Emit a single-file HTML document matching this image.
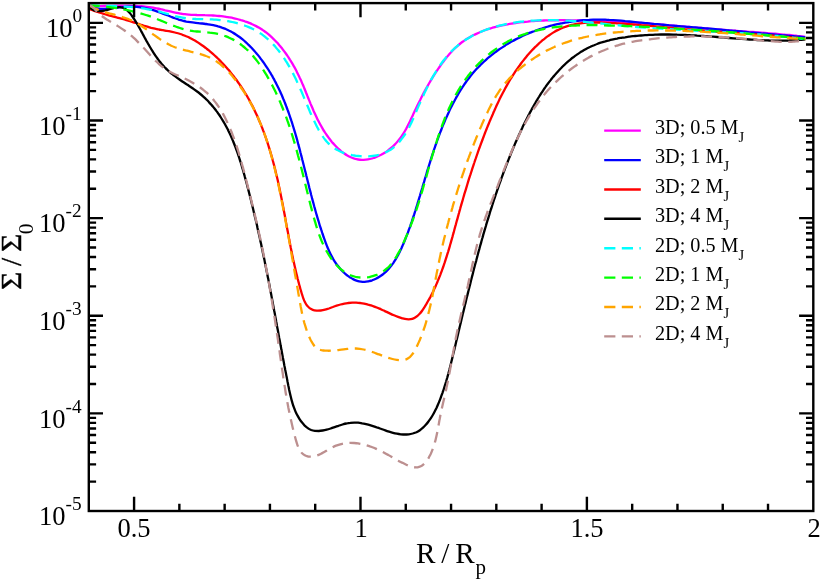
<!DOCTYPE html><html><head><meta charset="utf-8"><title>chart</title><style>
html,body{margin:0;padding:0;background:#fff;}
body{width:822px;height:581px;position:relative;overflow:hidden;font-family:"Liberation Serif",serif;color:#000;}
.t{position:absolute;white-space:nowrap;line-height:1;will-change:transform;}
.xl{font-size:26.5px;transform:translateX(-50%);}
.yl{font-size:26.5px;text-align:right;}
.yl sup{font-size:19.3px;position:relative;top:-15.1px;vertical-align:baseline;line-height:0;}
.lg{font-size:20.2px;}
.lg sub{font-size:14.6px;position:relative;top:7.6px;vertical-align:baseline;line-height:0;}
</style></head><body>
<svg width="822" height="581" viewBox="0 0 822 581" style="position:absolute;left:0;top:0">
<defs><clipPath id="c"><rect x="88.8" y="3.1" width="724.5" height="507.9"/></clipPath></defs>
<g fill="none" stroke-width="2.30" stroke-linejoin="round" clip-path="url(#c)">
<path d="M88.8,6.1C89.5,6.1 91.5,6.1 92.8,6.1C94.2,6.1 95.5,6.1 96.8,6.1C98.2,6.1 99.5,6.1 100.9,6.1C102.2,6.0 103.6,6.0 104.9,6.0C106.3,6.0 107.6,5.9 108.9,5.9C110.3,5.9 111.6,5.8 113.0,5.8C114.3,5.8 115.7,5.7 117.0,5.7C118.4,5.7 119.7,5.7 121.1,5.7C122.4,5.6 123.8,5.6 125.1,5.6C126.5,5.6 127.8,5.7 129.1,5.7C130.5,5.7 131.8,5.7 133.2,5.8C134.5,5.8 135.9,5.9 137.2,6.0C138.5,6.0 139.9,6.1 141.2,6.2C142.6,6.3 143.9,6.5 145.2,6.6C146.6,6.7 147.9,6.9 149.2,7.1C150.5,7.3 151.9,7.5 153.2,7.7C154.5,8.0 155.8,8.2 157.2,8.5C158.5,8.7 159.8,9.0 161.1,9.3C162.4,9.6 163.8,9.9 165.1,10.3C166.4,10.6 167.7,10.9 169.0,11.2C170.3,11.5 171.6,11.8 173.0,12.1C174.3,12.4 175.6,12.7 176.9,12.9C178.2,13.2 179.6,13.4 180.9,13.6C182.2,13.9 183.5,14.0 184.9,14.2C186.2,14.4 187.5,14.5 188.8,14.6C190.2,14.7 191.5,14.8 192.8,14.8C194.2,14.9 195.5,14.9 196.9,15.0C198.2,15.0 199.6,15.0 200.9,15.1C202.2,15.1 203.6,15.1 204.9,15.2C206.3,15.2 207.6,15.2 209.0,15.3C210.3,15.4 211.7,15.4 213.1,15.5C214.4,15.6 215.8,15.7 217.1,15.8C218.5,15.9 219.8,16.1 221.2,16.2C222.5,16.4 223.9,16.5 225.2,16.7C226.5,16.9 227.9,17.1 229.2,17.4C230.5,17.6 231.9,17.8 233.2,18.1C234.5,18.4 235.8,18.7 237.1,19.0C238.4,19.3 239.7,19.7 241.0,20.1C242.3,20.4 243.5,20.8 244.8,21.3C246.0,21.7 247.3,22.1 248.5,22.6C249.7,23.1 251.0,23.6 252.2,24.2C253.4,24.7 254.6,25.3 255.7,25.9C256.9,26.5 258.0,27.1 259.2,27.8C260.3,28.5 261.4,29.2 262.5,29.9C263.6,30.7 264.7,31.4 265.8,32.2C266.8,33.0 267.9,33.9 268.9,34.7C269.9,35.6 270.9,36.5 271.9,37.4C272.9,38.3 273.8,39.2 274.8,40.2C275.7,41.1 276.7,42.1 277.6,43.1C278.5,44.1 279.4,45.2 280.3,46.2C281.1,47.3 282.0,48.3 282.8,49.4C283.7,50.5 284.5,51.6 285.3,52.7C286.1,53.8 286.9,54.9 287.7,56.1C288.5,57.2 289.2,58.4 289.9,59.6C290.7,60.7 291.4,61.9 292.1,63.1C292.8,64.3 293.5,65.5 294.1,66.7C294.8,67.9 295.5,69.1 296.1,70.3C296.7,71.5 297.3,72.8 297.9,74.0C298.5,75.2 299.1,76.4 299.7,77.7C300.3,78.9 300.8,80.1 301.4,81.3C301.9,82.6 302.4,83.8 303.0,85.0C303.5,86.3 304.0,87.5 304.5,88.8C305.0,90.0 305.5,91.2 306.0,92.5C306.5,93.7 307.0,94.9 307.5,96.2C308.0,97.4 308.5,98.6 309.0,99.9C309.5,101.1 310.0,102.3 310.5,103.6C311.0,104.8 311.6,106.0 312.1,107.2C312.6,108.4 313.1,109.6 313.6,110.9C314.2,112.1 314.7,113.3 315.3,114.5C315.8,115.7 316.4,116.9 316.9,118.1C317.5,119.2 318.1,120.4 318.7,121.6C319.3,122.8 319.9,124.0 320.6,125.1C321.2,126.3 321.9,127.4 322.6,128.6C323.2,129.7 323.9,130.9 324.7,132.0C325.4,133.1 326.2,134.2 326.9,135.3C327.7,136.4 328.5,137.5 329.3,138.6C330.2,139.7 331.0,140.8 331.9,141.9C332.8,142.9 333.7,144.0 334.7,145.0C335.6,146.0 336.6,147.0 337.6,148.0C338.6,149.0 339.7,149.9 340.7,150.8C341.8,151.7 342.8,152.5 344.0,153.3C345.1,154.1 346.2,154.9 347.3,155.5C348.5,156.2 349.7,156.8 350.9,157.3C352.0,157.8 353.3,158.3 354.5,158.7C355.7,159.0 357.0,159.3 358.2,159.5C359.5,159.7 360.8,159.8 362.0,159.8C363.3,159.8 364.6,159.7 365.9,159.6C367.2,159.5 368.5,159.3 369.8,159.0C371.1,158.7 372.4,158.4 373.6,158.0C374.9,157.5 376.2,157.1 377.4,156.5C378.7,156.0 379.9,155.4 381.1,154.8C382.4,154.1 383.6,153.4 384.7,152.7C385.9,152.0 387.1,151.2 388.2,150.3C389.3,149.5 390.4,148.6 391.4,147.7C392.5,146.8 393.5,145.9 394.5,144.9C395.4,144.0 396.4,143.0 397.2,141.9C398.1,140.9 399.0,139.9 399.8,138.8C400.6,137.7 401.4,136.6 402.1,135.5C402.9,134.4 403.6,133.3 404.3,132.1C405.0,131.0 405.6,129.8 406.3,128.6C406.9,127.5 407.5,126.3 408.1,125.1C408.7,123.9 409.3,122.7 409.9,121.5C410.5,120.3 411.1,119.0 411.6,117.8C412.2,116.6 412.8,115.4 413.3,114.1C413.9,112.9 414.5,111.7 415.0,110.5C415.6,109.3 416.2,108.1 416.7,106.9C417.3,105.6 417.9,104.4 418.5,103.2C419.1,102.0 419.7,100.8 420.3,99.7C420.9,98.5 421.5,97.3 422.1,96.1C422.7,94.9 423.3,93.7 423.9,92.6C424.6,91.4 425.2,90.2 425.8,89.0C426.5,87.9 427.1,86.7 427.8,85.6C428.5,84.4 429.1,83.2 429.8,82.1C430.5,80.9 431.2,79.8 431.9,78.6C432.6,77.5 433.3,76.4 434.0,75.2C434.8,74.1 435.5,72.9 436.2,71.8C437.0,70.7 437.7,69.5 438.5,68.4C439.3,67.3 440.0,66.2 440.8,65.1C441.6,63.9 442.4,62.8 443.3,61.7C444.1,60.6 444.9,59.5 445.8,58.5C446.6,57.4 447.5,56.3 448.4,55.3C449.2,54.3 450.1,53.3 451.1,52.3C452.0,51.3 452.9,50.3 453.9,49.3C454.8,48.4 455.8,47.4 456.8,46.6C457.8,45.7 458.8,44.8 459.8,44.0C460.9,43.1 461.9,42.3 463.0,41.5C464.1,40.8 465.2,40.0 466.3,39.3C467.4,38.6 468.6,37.9 469.7,37.2C470.9,36.6 472.0,35.9 473.2,35.3C474.4,34.7 475.6,34.1 476.8,33.6C478.0,33.0 479.2,32.5 480.4,32.0C481.7,31.5 482.9,31.0 484.2,30.5C485.4,30.1 486.7,29.6 488.0,29.2C489.3,28.8 490.5,28.4 491.8,28.0C493.1,27.6 494.4,27.3 495.7,26.9C497.1,26.6 498.4,26.2 499.7,25.9C501.0,25.6 502.3,25.3 503.7,25.1C505.0,24.8 506.3,24.5 507.6,24.3C509.0,24.0 510.3,23.8 511.6,23.6C513.0,23.4 514.3,23.2 515.6,23.0C517.0,22.8 518.3,22.6 519.7,22.4C521.0,22.3 522.3,22.1 523.7,22.0C525.0,21.8 526.3,21.7 527.7,21.6C529.0,21.4 530.4,21.3 531.7,21.2C533.0,21.1 534.4,21.0 535.7,20.9C537.1,20.9 538.4,20.8 539.8,20.7C541.1,20.6 542.4,20.6 543.8,20.5C545.1,20.5 546.5,20.4 547.8,20.4C549.2,20.4 550.5,20.3 551.8,20.3C553.2,20.3 554.5,20.3 555.9,20.3C557.2,20.2 558.6,20.2 559.9,20.2C561.2,20.2 562.6,20.2 563.9,20.2C565.3,20.2 566.6,20.2 568.0,20.2C569.3,20.3 570.7,20.3 572.0,20.3C573.3,20.3 574.7,20.3 576.0,20.3C577.4,20.4 578.7,20.4 580.1,20.4C581.4,20.4 582.8,20.5 584.1,20.5C585.4,20.5 586.8,20.5 588.1,20.6C589.5,20.6 590.8,20.6 592.2,20.7C593.5,20.7 594.8,20.8 596.2,20.8C597.5,20.8 598.9,20.9 600.2,20.9C601.6,21.0 602.9,21.0 604.2,21.1C605.6,21.1 606.9,21.2 608.3,21.2C609.6,21.3 611.0,21.3 612.3,21.4C613.6,21.4 615.0,21.5 616.3,21.6C617.7,21.6 619.0,21.7 620.4,21.7C621.7,21.8 623.0,21.9 624.4,22.0C625.7,22.0 627.1,22.1 628.4,22.2C629.7,22.3 631.1,22.4 632.4,22.4C633.8,22.5 635.1,22.6 636.5,22.7C637.8,22.8 639.1,22.9 640.5,23.0C641.8,23.1 643.2,23.2 644.5,23.3C645.8,23.4 647.2,23.5 648.5,23.6C649.9,23.7 651.2,23.8 652.5,23.9C653.9,24.0 655.2,24.1 656.6,24.2C657.9,24.3 659.2,24.4 660.6,24.5C661.9,24.6 663.3,24.8 664.6,24.9C665.9,25.0 667.3,25.1 668.6,25.2C670.0,25.3 671.3,25.4 672.6,25.6C674.0,25.7 675.3,25.8 676.7,25.9C678.0,26.0 679.3,26.1 680.7,26.3C682.0,26.4 683.4,26.5 684.7,26.6C686.0,26.7 687.4,26.9 688.7,27.0C690.1,27.1 691.4,27.2 692.7,27.3C694.1,27.5 695.4,27.6 696.8,27.7C698.1,27.8 699.4,27.9 700.8,28.0C702.1,28.2 703.5,28.3 704.8,28.4C706.1,28.5 707.5,28.6 708.8,28.7C710.2,28.8 711.5,29.0 712.8,29.1C714.2,29.2 715.5,29.3 716.9,29.4C718.2,29.5 719.5,29.6 720.9,29.7C722.2,29.8 723.6,29.9 724.9,30.0C726.2,30.1 727.6,30.2 728.9,30.3C730.3,30.4 731.6,30.5 732.9,30.6C734.3,30.7 735.6,30.8 737.0,30.9C738.3,31.0 739.7,31.1 741.0,31.2C742.3,31.3 743.7,31.4 745.0,31.5C746.4,31.6 747.7,31.7 749.0,31.8C750.4,31.9 751.7,32.0 753.1,32.0C754.4,32.1 755.8,32.2 757.1,32.3C758.4,32.4 759.8,32.5 761.1,32.6C762.5,32.7 763.8,32.8 765.1,32.9C766.5,33.0 767.8,33.2 769.2,33.3C770.5,33.4 771.8,33.5 773.2,33.6C774.5,33.7 775.9,33.8 777.2,33.9C778.5,34.0 779.9,34.2 781.2,34.3C782.6,34.4 783.9,34.5 785.2,34.7C786.6,34.8 787.9,34.9 789.3,35.0C790.6,35.2 791.9,35.3 793.3,35.5C794.6,35.6 795.9,35.7 797.3,35.9C798.6,36.0 800.0,36.2 801.3,36.3C802.6,36.5 804.6,36.8 805.3,36.8" stroke="#ff00ff"/>
<path d="M88.8,6.1C89.5,6.4 91.4,7.2 92.7,7.6C94.0,8.0 95.3,8.2 96.6,8.4C97.9,8.6 99.2,8.7 100.5,8.8C101.9,8.8 103.2,8.8 104.5,8.8C105.8,8.7 107.1,8.6 108.5,8.5C109.8,8.4 111.1,8.2 112.5,8.0C113.8,7.9 115.1,7.7 116.5,7.6C117.8,7.4 119.1,7.3 120.5,7.1C121.8,7.0 123.2,6.9 124.5,6.9C125.8,6.8 127.2,6.7 128.5,6.7C129.9,6.7 131.2,6.7 132.5,6.7C133.9,6.7 135.2,6.8 136.5,6.9C137.9,7.0 139.2,7.1 140.5,7.3C141.8,7.5 143.2,7.7 144.5,7.9C145.8,8.2 147.1,8.5 148.4,8.8C149.7,9.1 150.9,9.5 152.2,9.9C153.5,10.2 154.8,10.7 156.1,11.1C157.3,11.5 158.6,12.0 159.9,12.4C161.1,12.9 162.4,13.4 163.6,13.9C164.9,14.3 166.1,14.8 167.4,15.3C168.6,15.8 169.9,16.3 171.1,16.8C172.4,17.3 173.6,17.8 174.9,18.2C176.1,18.7 177.4,19.1 178.7,19.6C179.9,20.0 181.2,20.3 182.5,20.7C183.7,21.0 185.0,21.3 186.3,21.6C187.6,21.8 188.9,22.0 190.3,22.2C191.6,22.4 192.9,22.6 194.2,22.7C195.5,22.9 196.9,23.0 198.2,23.1C199.5,23.3 200.9,23.4 202.2,23.5C203.5,23.7 204.9,23.8 206.2,24.0C207.5,24.2 208.9,24.4 210.2,24.6C211.5,24.8 212.8,25.1 214.2,25.4C215.5,25.7 216.8,26.0 218.1,26.4C219.4,26.7 220.6,27.1 221.9,27.6C223.2,28.0 224.4,28.5 225.7,29.0C226.9,29.5 228.1,30.1 229.3,30.7C230.5,31.2 231.7,31.9 232.8,32.6C234.0,33.2 235.1,33.9 236.2,34.7C237.3,35.4 238.4,36.2 239.5,37.0C240.6,37.8 241.6,38.6 242.6,39.4C243.7,40.3 244.7,41.2 245.7,42.1C246.7,43.0 247.7,43.9 248.6,44.9C249.6,45.8 250.6,46.8 251.5,47.7C252.4,48.7 253.3,49.7 254.2,50.7C255.1,51.7 256.0,52.8 256.8,53.8C257.7,54.8 258.6,55.9 259.4,56.9C260.2,58.0 261.0,59.1 261.8,60.1C262.6,61.2 263.4,62.3 264.2,63.4C264.9,64.5 265.7,65.6 266.4,66.7C267.2,67.8 267.9,68.9 268.6,70.0C269.3,71.2 270.0,72.3 270.7,73.4C271.3,74.6 272.0,75.7 272.7,76.9C273.3,78.1 274.0,79.2 274.6,80.4C275.2,81.6 275.8,82.7 276.4,83.9C277.0,85.1 277.6,86.3 278.2,87.5C278.8,88.7 279.4,89.9 279.9,91.1C280.5,92.3 281.0,93.6 281.6,94.8C282.1,96.0 282.6,97.2 283.1,98.5C283.7,99.7 284.2,100.9 284.7,102.2C285.2,103.4 285.7,104.7 286.1,105.9C286.6,107.2 287.1,108.4 287.5,109.7C288.0,111.0 288.5,112.2 288.9,113.5C289.3,114.8 289.8,116.0 290.2,117.3C290.6,118.6 291.1,119.9 291.5,121.2C291.9,122.4 292.3,123.7 292.7,125.0C293.1,126.3 293.5,127.6 293.9,128.9C294.3,130.2 294.7,131.5 295.1,132.8C295.4,134.0 295.8,135.3 296.2,136.6C296.6,137.9 296.9,139.2 297.3,140.5C297.6,141.8 298.0,143.1 298.3,144.4C298.7,145.7 299.0,147.0 299.4,148.3C299.7,149.6 300.1,151.0 300.4,152.3C300.8,153.6 301.1,154.9 301.4,156.2C301.8,157.5 302.1,158.8 302.4,160.1C302.8,161.4 303.1,162.7 303.4,164.0C303.7,165.3 304.1,166.6 304.4,167.9C304.7,169.2 305.0,170.5 305.4,171.8C305.7,173.0 306.0,174.3 306.3,175.6C306.7,176.9 307.0,178.2 307.3,179.5C307.6,180.8 307.9,182.1 308.3,183.4C308.6,184.7 308.9,186.0 309.2,187.3C309.6,188.6 309.9,189.9 310.2,191.2C310.6,192.5 310.9,193.8 311.2,195.0C311.6,196.3 311.9,197.6 312.2,198.9C312.6,200.2 312.9,201.5 313.3,202.8C313.6,204.1 314.0,205.3 314.3,206.6C314.7,207.9 315.0,209.2 315.4,210.5C315.8,211.8 316.1,213.1 316.5,214.3C316.9,215.6 317.2,216.9 317.6,218.2C318.0,219.5 318.4,220.7 318.8,222.0C319.2,223.3 319.5,224.6 319.9,225.8C320.3,227.1 320.8,228.4 321.2,229.7C321.6,230.9 322.0,232.2 322.4,233.5C322.9,234.7 323.3,236.0 323.7,237.3C324.2,238.5 324.6,239.8 325.1,241.1C325.5,242.3 326.0,243.6 326.5,244.8C327.0,246.1 327.5,247.3 328.0,248.6C328.6,249.8 329.1,251.0 329.7,252.3C330.2,253.5 330.8,254.7 331.5,255.9C332.1,257.0 332.7,258.2 333.4,259.4C334.1,260.5 334.8,261.7 335.6,262.8C336.3,263.9 337.1,265.0 338.0,266.1C338.8,267.1 339.7,268.2 340.6,269.2C341.5,270.2 342.5,271.3 343.5,272.2C344.5,273.2 345.6,274.1 346.6,275.0C347.7,275.8 348.8,276.7 350.0,277.4C351.1,278.1 352.3,278.8 353.5,279.4C354.7,280.0 355.9,280.4 357.2,280.8C358.4,281.2 359.6,281.5 360.9,281.6C362.2,281.8 363.4,281.8 364.7,281.8C366.0,281.7 367.2,281.5 368.5,281.3C369.7,281.0 371.0,280.7 372.2,280.3C373.5,279.8 374.7,279.3 375.9,278.7C377.1,278.2 378.3,277.5 379.4,276.8C380.5,276.1 381.7,275.3 382.7,274.5C383.8,273.7 384.8,272.8 385.8,271.9C386.8,270.9 387.7,270.0 388.6,269.0C389.5,268.0 390.4,266.9 391.2,265.9C392.0,264.8 392.8,263.7 393.6,262.6C394.3,261.5 395.1,260.3 395.8,259.1C396.5,258.0 397.2,256.8 397.8,255.6C398.5,254.4 399.1,253.1 399.7,251.9C400.3,250.7 400.9,249.4 401.5,248.2C402.0,246.9 402.6,245.7 403.1,244.4C403.7,243.2 404.2,241.9 404.7,240.7C405.2,239.4 405.7,238.2 406.2,236.9C406.7,235.7 407.2,234.5 407.7,233.2C408.1,231.9 408.6,230.7 409.0,229.4C409.5,228.2 409.9,226.9 410.4,225.7C410.8,224.4 411.2,223.2 411.7,221.9C412.1,220.7 412.5,219.4 412.9,218.1C413.3,216.9 413.8,215.6 414.2,214.4C414.6,213.1 415.0,211.8 415.4,210.6C415.8,209.3 416.2,208.0 416.6,206.7C417.0,205.5 417.4,204.2 417.7,202.9C418.1,201.6 418.5,200.4 418.9,199.1C419.3,197.8 419.7,196.5 420.1,195.3C420.4,194.0 420.8,192.7 421.2,191.4C421.6,190.1 422.0,188.9 422.4,187.6C422.7,186.3 423.1,185.0 423.5,183.7C423.9,182.5 424.3,181.2 424.6,179.9C425.0,178.6 425.4,177.3 425.8,176.0C426.2,174.8 426.6,173.5 426.9,172.2C427.3,170.9 427.7,169.6 428.1,168.4C428.5,167.1 428.9,165.8 429.3,164.5C429.7,163.2 430.1,162.0 430.5,160.7C430.9,159.4 431.3,158.1 431.7,156.8C432.1,155.6 432.5,154.3 433.0,153.0C433.4,151.7 433.8,150.5 434.2,149.2C434.7,147.9 435.1,146.7 435.5,145.4C436.0,144.1 436.4,142.9 436.9,141.6C437.3,140.3 437.8,139.1 438.2,137.8C438.7,136.6 439.1,135.3 439.6,134.0C440.1,132.8 440.6,131.5 441.1,130.3C441.5,129.0 442.0,127.8 442.5,126.5C443.0,125.3 443.5,124.0 444.1,122.8C444.6,121.6 445.1,120.3 445.6,119.1C446.2,117.9 446.7,116.6 447.3,115.4C447.8,114.2 448.4,113.0 449.0,111.7C449.5,110.5 450.1,109.3 450.7,108.1C451.3,106.9 451.9,105.7 452.5,104.5C453.1,103.3 453.8,102.1 454.4,100.9C455.0,99.7 455.7,98.5 456.3,97.4C457.0,96.2 457.7,95.0 458.3,93.9C459.0,92.7 459.7,91.6 460.4,90.4C461.1,89.3 461.9,88.2 462.6,87.0C463.3,85.9 464.1,84.8 464.8,83.7C465.6,82.6 466.4,81.5 467.2,80.4C468.0,79.4 468.8,78.3 469.6,77.3C470.4,76.2 471.2,75.2 472.1,74.1C472.9,73.1 473.8,72.1 474.7,71.1C475.6,70.1 476.5,69.1 477.4,68.1C478.3,67.2 479.2,66.2 480.2,65.3C481.1,64.3 482.1,63.4 483.0,62.5C484.0,61.6 485.0,60.7 486.0,59.8C487.0,58.9 488.0,58.0 489.0,57.2C490.1,56.3 491.1,55.4 492.2,54.6C493.2,53.8 494.3,53.0 495.3,52.2C496.4,51.4 497.5,50.6 498.6,49.8C499.7,49.0 500.8,48.3 501.9,47.6C503.0,46.8 504.1,46.1 505.3,45.4C506.4,44.7 507.6,44.0 508.7,43.3C509.9,42.6 511.0,41.9 512.2,41.3C513.4,40.6 514.5,40.0 515.7,39.4C516.9,38.8 518.1,38.2 519.3,37.6C520.5,37.0 521.7,36.4 522.9,35.8C524.1,35.3 525.4,34.7 526.6,34.2C527.8,33.7 529.1,33.1 530.3,32.6C531.6,32.1 532.8,31.7 534.1,31.2C535.3,30.7 536.6,30.2 537.8,29.8C539.1,29.4 540.4,28.9 541.7,28.5C542.9,28.1 544.2,27.7 545.5,27.3C546.8,26.9 548.1,26.6 549.4,26.2C550.7,25.9 552.0,25.5 553.3,25.2C554.6,24.9 555.9,24.5 557.2,24.2C558.5,24.0 559.8,23.7 561.1,23.4C562.5,23.1 563.8,22.9 565.1,22.6C566.4,22.4 567.8,22.2 569.1,22.0C570.4,21.7 571.7,21.6 573.1,21.4C574.4,21.2 575.7,21.0 577.1,20.9C578.4,20.7 579.7,20.6 581.1,20.4C582.4,20.3 583.8,20.2 585.1,20.1C586.4,20.0 587.8,19.9 589.1,19.9C590.5,19.8 591.8,19.7 593.1,19.7C594.5,19.7 595.8,19.6 597.2,19.6C598.5,19.6 599.8,19.6 601.2,19.6C602.5,19.6 603.8,19.7 605.2,19.7C606.5,19.8 607.8,19.8 609.2,19.9C610.5,19.9 611.8,20.0 613.2,20.1C614.5,20.2 615.8,20.3 617.2,20.4C618.5,20.5 619.8,20.6 621.1,20.7C622.5,20.8 623.8,20.9 625.1,21.1C626.5,21.2 627.8,21.3 629.1,21.5C630.4,21.6 631.8,21.7 633.1,21.9C634.4,22.0 635.8,22.1 637.1,22.3C638.4,22.4 639.8,22.5 641.1,22.7C642.4,22.8 643.8,22.9 645.1,23.1C646.4,23.2 647.8,23.3 649.1,23.4C650.4,23.6 651.8,23.7 653.1,23.8C654.4,24.0 655.8,24.1 657.1,24.2C658.4,24.3 659.8,24.4 661.1,24.6C662.4,24.7 663.8,24.8 665.1,24.9C666.4,25.0 667.8,25.1 669.1,25.3C670.5,25.4 671.8,25.5 673.1,25.6C674.5,25.7 675.8,25.8 677.1,26.0C678.5,26.1 679.8,26.2 681.2,26.3C682.5,26.4 683.8,26.5 685.2,26.6C686.5,26.7 687.8,26.9 689.2,27.0C690.5,27.1 691.9,27.2 693.2,27.3C694.5,27.4 695.9,27.5 697.2,27.6C698.5,27.8 699.9,27.9 701.2,28.0C702.6,28.1 703.9,28.2 705.2,28.3C706.6,28.4 707.9,28.6 709.2,28.7C710.6,28.8 711.9,28.9 713.2,29.0C714.6,29.1 715.9,29.3 717.2,29.4C718.6,29.5 719.9,29.6 721.2,29.7C722.6,29.9 723.9,30.0 725.2,30.1C726.6,30.2 727.9,30.3 729.3,30.5C730.6,30.6 731.9,30.7 733.3,30.8C734.6,30.9 735.9,31.1 737.3,31.2C738.6,31.3 739.9,31.4 741.3,31.5C742.6,31.7 743.9,31.8 745.3,31.9C746.6,32.0 747.9,32.1 749.3,32.3C750.6,32.4 751.9,32.5 753.3,32.6C754.6,32.7 755.9,32.9 757.3,33.0C758.6,33.1 759.9,33.2 761.3,33.4C762.6,33.5 763.9,33.6 765.3,33.7C766.6,33.8 767.9,34.0 769.3,34.1C770.6,34.2 771.9,34.3 773.3,34.4C774.6,34.6 775.9,34.7 777.3,34.8C778.6,34.9 779.9,35.0 781.3,35.2C782.6,35.3 783.9,35.4 785.3,35.5C786.6,35.6 787.9,35.8 789.3,35.9C790.6,36.0 792.0,36.1 793.3,36.2C794.6,36.4 796.0,36.5 797.3,36.6C798.6,36.7 800.0,36.8 801.3,36.9C802.6,37.1 804.7,37.2 805.3,37.3" stroke="#0000ff"/>
<path d="M89.7,9.2C90.3,9.5 92.2,10.1 93.5,10.6C94.7,11.0 96.0,11.4 97.3,11.8C98.5,12.3 99.8,12.6 101.1,13.0C102.4,13.4 103.6,13.8 104.9,14.2C106.2,14.5 107.5,14.9 108.8,15.3C110.1,15.6 111.4,16.0 112.7,16.3C114.0,16.7 115.3,17.0 116.6,17.4C117.8,17.7 119.1,18.1 120.4,18.4C121.7,18.8 123.0,19.1 124.3,19.5C125.6,19.9 126.9,20.2 128.2,20.6C129.5,21.0 130.7,21.4 132.0,21.8C133.3,22.2 134.6,22.6 135.8,23.0C137.1,23.4 138.4,23.8 139.6,24.2C140.9,24.7 142.2,25.1 143.4,25.5C144.7,25.9 146.0,26.3 147.3,26.7C148.5,27.1 149.8,27.4 151.1,27.8C152.4,28.1 153.7,28.4 155.0,28.7C156.4,29.0 157.7,29.2 159.0,29.5C160.3,29.7 161.7,30.0 163.0,30.2C164.3,30.4 165.7,30.7 167.0,30.9C168.3,31.1 169.6,31.4 171.0,31.6C172.3,31.9 173.6,32.2 174.9,32.5C176.2,32.8 177.5,33.2 178.8,33.5C180.0,33.9 181.3,34.3 182.5,34.8C183.8,35.2 185.0,35.7 186.2,36.3C187.5,36.8 188.7,37.3 189.9,37.9C191.0,38.5 192.2,39.1 193.4,39.8C194.6,40.4 195.7,41.1 196.8,41.8C198.0,42.5 199.1,43.2 200.2,44.0C201.3,44.7 202.4,45.5 203.5,46.3C204.6,47.1 205.7,47.9 206.7,48.7C207.8,49.5 208.8,50.4 209.9,51.3C210.9,52.1 211.9,53.0 212.9,53.9C213.9,54.8 214.9,55.7 215.9,56.6C216.9,57.5 217.8,58.5 218.8,59.4C219.8,60.4 220.7,61.3 221.6,62.3C222.6,63.3 223.5,64.2 224.4,65.2C225.3,66.2 226.2,67.2 227.1,68.2C227.9,69.2 228.8,70.2 229.7,71.3C230.5,72.3 231.4,73.3 232.2,74.4C233.0,75.4 233.9,76.5 234.7,77.6C235.5,78.6 236.3,79.7 237.1,80.8C237.8,81.9 238.6,83.0 239.4,84.1C240.1,85.2 240.9,86.3 241.6,87.4C242.3,88.5 243.1,89.6 243.8,90.8C244.5,91.9 245.2,93.1 245.9,94.2C246.6,95.3 247.2,96.5 247.9,97.7C248.6,98.8 249.2,100.0 249.9,101.2C250.5,102.3 251.1,103.5 251.7,104.7C252.4,105.9 253.0,107.1 253.6,108.3C254.1,109.5 254.7,110.7 255.3,111.9C255.9,113.1 256.4,114.3 257.0,115.5C257.5,116.7 258.1,117.9 258.6,119.2C259.1,120.4 259.7,121.6 260.2,122.9C260.7,124.1 261.2,125.3 261.7,126.6C262.2,127.8 262.7,129.1 263.1,130.3C263.6,131.6 264.1,132.8 264.5,134.1C265.0,135.3 265.4,136.6 265.9,137.9C266.3,139.1 266.7,140.4 267.2,141.7C267.6,143.0 268.0,144.2 268.4,145.5C268.8,146.8 269.2,148.1 269.6,149.4C270.0,150.7 270.4,151.9 270.7,153.2C271.1,154.5 271.5,155.8 271.9,157.1C272.2,158.4 272.6,159.7 272.9,161.0C273.3,162.3 273.6,163.6 274.0,164.9C274.3,166.2 274.6,167.5 275.0,168.8C275.3,170.1 275.6,171.4 275.9,172.8C276.2,174.1 276.5,175.4 276.9,176.7C277.2,178.0 277.5,179.3 277.8,180.6C278.1,181.9 278.3,183.2 278.6,184.6C278.9,185.9 279.2,187.2 279.5,188.5C279.8,189.8 280.0,191.1 280.3,192.4C280.6,193.7 280.8,195.1 281.1,196.4C281.4,197.7 281.6,199.0 281.9,200.3C282.1,201.6 282.4,202.9 282.7,204.2C282.9,205.6 283.2,206.9 283.4,208.2C283.6,209.5 283.9,210.8 284.1,212.1C284.4,213.4 284.6,214.7 284.9,216.0C285.1,217.3 285.3,218.6 285.6,219.9C285.8,221.3 286.1,222.6 286.3,223.9C286.5,225.2 286.8,226.5 287.0,227.8C287.3,229.1 287.5,230.4 287.8,231.7C288.0,233.0 288.2,234.3 288.5,235.6C288.7,236.9 289.0,238.2 289.2,239.6C289.5,240.9 289.7,242.2 290.0,243.5C290.2,244.8 290.5,246.1 290.7,247.4C291.0,248.7 291.3,250.0 291.5,251.3C291.8,252.6 292.0,254.0 292.3,255.3C292.6,256.6 292.9,257.9 293.1,259.2C293.4,260.5 293.7,261.8 294.0,263.1C294.3,264.5 294.6,265.8 294.9,267.1C295.2,268.4 295.5,269.7 295.8,271.0C296.1,272.4 296.4,273.7 296.8,275.0C297.1,276.3 297.4,277.6 297.7,279.0C298.1,280.3 298.4,281.6 298.8,282.9C299.1,284.3 299.5,285.6 299.9,286.9C300.2,288.3 300.6,289.6 301.0,290.9C301.4,292.3 301.7,293.6 302.2,294.9C302.6,296.2 303.0,297.6 303.5,298.8C304.0,300.1 304.5,301.3 305.1,302.4C305.6,303.6 306.3,304.6 307.0,305.6C307.8,306.5 308.6,307.4 309.6,308.1C310.5,308.8 311.6,309.4 312.8,309.8C314.0,310.2 315.3,310.4 316.7,310.6C318.0,310.7 319.5,310.6 320.9,310.5C322.2,310.4 323.6,310.1 325.0,309.7C326.3,309.4 327.6,308.9 328.9,308.5C330.2,308.0 331.5,307.5 332.8,307.0C334.0,306.5 335.3,306.0 336.6,305.6C337.9,305.2 339.2,304.8 340.5,304.5C341.8,304.2 343.1,303.9 344.4,303.6C345.7,303.4 347.0,303.2 348.3,303.0C349.6,302.9 350.9,302.8 352.3,302.7C353.6,302.7 354.9,302.7 356.2,302.7C357.5,302.8 358.9,302.9 360.2,303.0C361.5,303.2 362.8,303.4 364.1,303.6C365.5,303.9 366.8,304.2 368.1,304.6C369.4,304.9 370.7,305.3 372.0,305.7C373.3,306.2 374.6,306.6 375.8,307.1C377.1,307.6 378.3,308.1 379.5,308.6C380.7,309.2 381.9,309.7 383.1,310.3C384.3,310.8 385.4,311.4 386.6,311.9C387.8,312.5 389.0,313.1 390.2,313.6C391.4,314.2 392.7,314.8 394.0,315.3C395.3,315.9 396.6,316.4 398.0,316.9C399.4,317.4 400.9,317.9 402.3,318.3C403.8,318.7 405.2,319.1 406.6,319.2C408.0,319.4 409.3,319.4 410.6,319.2C411.8,319.0 413.0,318.6 414.1,318.1C415.2,317.7 416.2,317.0 417.1,316.2C418.1,315.5 419.0,314.6 419.9,313.6C420.7,312.7 421.5,311.6 422.3,310.5C423.1,309.5 423.8,308.3 424.5,307.2C425.2,306.0 425.9,304.8 426.6,303.7C427.3,302.5 428.0,301.3 428.6,300.1C429.3,298.9 429.9,297.8 430.6,296.6C431.2,295.4 431.8,294.2 432.4,293.0C433.0,291.8 433.6,290.6 434.1,289.3C434.7,288.1 435.3,286.9 435.8,285.7C436.3,284.5 436.9,283.2 437.4,282.0C437.9,280.8 438.4,279.5 438.9,278.3C439.4,277.0 439.9,275.8 440.4,274.6C440.9,273.3 441.3,272.1 441.8,270.8C442.3,269.5 442.7,268.3 443.2,267.0C443.6,265.8 444.0,264.5 444.5,263.2C444.9,262.0 445.3,260.7 445.7,259.4C446.1,258.2 446.5,256.9 446.9,255.6C447.3,254.3 447.7,253.0 448.1,251.8C448.5,250.5 448.9,249.2 449.3,247.9C449.7,246.6 450.0,245.3 450.4,244.0C450.8,242.8 451.1,241.5 451.5,240.2C451.9,238.9 452.2,237.6 452.6,236.3C452.9,235.0 453.3,233.7 453.7,232.4C454.0,231.1 454.4,229.8 454.7,228.5C455.1,227.2 455.4,225.9 455.8,224.6C456.1,223.4 456.5,222.1 456.8,220.8C457.2,219.5 457.6,218.2 457.9,216.9C458.3,215.6 458.6,214.3 459.0,213.0C459.3,211.7 459.7,210.4 460.1,209.1C460.4,207.8 460.8,206.5 461.2,205.2C461.5,203.9 461.9,202.7 462.3,201.4C462.7,200.1 463.0,198.8 463.4,197.5C463.8,196.2 464.2,194.9 464.5,193.6C464.9,192.4 465.3,191.1 465.7,189.8C466.1,188.5 466.5,187.2 466.9,185.9C467.3,184.7 467.6,183.4 468.0,182.1C468.4,180.8 468.8,179.5 469.2,178.2C469.6,177.0 470.0,175.7 470.5,174.4C470.9,173.1 471.3,171.9 471.7,170.6C472.1,169.3 472.5,168.0 472.9,166.8C473.4,165.5 473.8,164.2 474.2,163.0C474.6,161.7 475.1,160.4 475.5,159.2C475.9,157.9 476.4,156.6 476.8,155.4C477.2,154.1 477.7,152.8 478.1,151.6C478.6,150.3 479.0,149.0 479.5,147.8C479.9,146.5 480.4,145.3 480.9,144.0C481.3,142.8 481.8,141.5 482.3,140.3C482.7,139.0 483.2,137.7 483.7,136.5C484.2,135.3 484.6,134.0 485.1,132.8C485.6,131.5 486.1,130.3 486.6,129.0C487.1,127.8 487.6,126.5 488.1,125.3C488.6,124.1 489.1,122.8 489.6,121.6C490.1,120.4 490.7,119.1 491.2,117.9C491.7,116.7 492.2,115.4 492.8,114.2C493.3,113.0 493.8,111.8 494.4,110.5C494.9,109.3 495.5,108.1 496.0,106.9C496.6,105.7 497.1,104.4 497.7,103.2C498.3,102.0 498.9,100.8 499.4,99.6C500.0,98.4 500.6,97.2 501.2,96.0C501.8,94.8 502.4,93.6 503.0,92.5C503.7,91.3 504.3,90.1 504.9,88.9C505.6,87.7 506.2,86.6 506.9,85.4C507.5,84.2 508.2,83.1 508.8,81.9C509.5,80.8 510.2,79.6 510.9,78.5C511.6,77.4 512.3,76.2 513.0,75.1C513.7,74.0 514.5,72.9 515.2,71.7C515.9,70.6 516.7,69.5 517.5,68.4C518.2,67.3 519.0,66.2 519.8,65.2C520.6,64.1 521.4,63.0 522.2,61.9C523.0,60.9 523.9,59.8 524.7,58.8C525.6,57.7 526.4,56.7 527.3,55.6C528.2,54.6 529.1,53.6 530.0,52.6C530.9,51.6 531.8,50.6 532.7,49.6C533.7,48.6 534.6,47.6 535.6,46.7C536.6,45.7 537.5,44.8 538.5,43.9C539.5,42.9 540.5,42.0 541.6,41.1C542.6,40.3 543.6,39.4 544.7,38.6C545.8,37.7 546.8,36.9 547.9,36.1C549.0,35.4 550.1,34.6 551.2,33.9C552.3,33.2 553.4,32.5 554.6,31.8C555.7,31.1 556.9,30.5 558.1,29.9C559.2,29.3 560.4,28.8 561.6,28.3C562.8,27.7 564.0,27.3 565.3,26.8C566.5,26.4 567.7,26.0 569.0,25.6C570.2,25.3 571.5,24.9 572.8,24.7C574.1,24.4 575.3,24.1 576.6,23.9C577.9,23.7 579.2,23.5 580.6,23.3C581.9,23.1 583.2,23.0 584.5,22.9C585.9,22.8 587.2,22.7 588.5,22.6C589.9,22.5 591.2,22.5 592.6,22.5C593.9,22.4 595.3,22.4 596.7,22.4C598.0,22.5 599.4,22.5 600.8,22.5C602.1,22.5 603.5,22.6 604.8,22.6C606.2,22.7 607.6,22.8 608.9,22.8C610.3,22.9 611.7,23.0 613.0,23.1C614.4,23.2 615.8,23.2 617.1,23.3C618.5,23.4 619.8,23.5 621.2,23.6C622.5,23.7 623.9,23.8 625.2,23.9C626.6,24.0 627.9,24.1 629.3,24.2C630.6,24.3 631.9,24.4 633.3,24.5C634.6,24.6 636.0,24.7 637.3,24.8C638.6,24.9 640.0,25.0 641.3,25.2C642.6,25.3 644.0,25.4 645.3,25.5C646.6,25.6 648.0,25.7 649.3,25.9C650.6,26.0 651.9,26.1 653.3,26.2C654.6,26.3 655.9,26.5 657.2,26.6C658.6,26.7 659.9,26.8 661.2,27.0C662.5,27.1 663.9,27.2 665.2,27.3C666.5,27.4 667.8,27.6 669.2,27.7C670.5,27.8 671.8,27.9 673.1,28.1C674.4,28.2 675.8,28.3 677.1,28.4C678.4,28.6 679.7,28.7 681.1,28.8C682.4,28.9 683.7,29.0 685.0,29.2C686.4,29.3 687.7,29.4 689.0,29.5C690.3,29.6 691.7,29.7 693.0,29.9C694.3,30.0 695.6,30.1 697.0,30.2C698.3,30.3 699.6,30.4 701.0,30.5C702.3,30.6 703.6,30.7 705.0,30.8C706.3,31.0 707.6,31.1 709.0,31.2C710.3,31.3 711.6,31.4 713.0,31.5C714.3,31.5 715.7,31.6 717.0,31.7C718.3,31.8 719.7,31.9 721.0,32.0C722.4,32.1 723.7,32.2 725.0,32.3C726.4,32.4 727.7,32.5 729.1,32.6C730.4,32.7 731.8,32.7 733.1,32.8C734.5,32.9 735.8,33.0 737.1,33.1C738.5,33.2 739.8,33.3 741.2,33.4C742.5,33.5 743.9,33.5 745.2,33.6C746.6,33.7 747.9,33.8 749.2,33.9C750.6,34.0 751.9,34.1 753.3,34.2C754.6,34.3 756.0,34.4 757.3,34.5C758.7,34.6 760.0,34.6 761.3,34.7C762.7,34.8 764.0,34.9 765.4,35.0C766.7,35.1 768.0,35.2 769.4,35.3C770.7,35.4 772.1,35.6 773.4,35.7C774.7,35.8 776.1,35.9 777.4,36.0C778.7,36.1 780.1,36.2 781.4,36.3C782.7,36.4 784.1,36.6 785.4,36.7C786.7,36.8 788.1,36.9 789.4,37.1C790.7,37.2 792.0,37.3 793.4,37.5C794.7,37.6 796.0,37.7 797.3,37.9C798.6,38.0 800.0,38.1 801.3,38.3C802.6,38.4 804.6,38.7 805.2,38.7" stroke="#ff0000"/>
<path d="M89.8,7.6C90.4,8.0 92.2,9.4 93.4,10.0C94.6,10.5 95.9,10.8 97.2,11.0C98.4,11.2 99.7,11.2 101.0,11.1C102.3,11.0 103.6,10.8 105.0,10.5C106.3,10.2 107.7,9.8 109.0,9.4C110.4,9.0 111.8,8.5 113.1,8.2C114.4,7.9 115.8,7.5 117.1,7.4C118.3,7.2 119.6,7.1 120.8,7.3C122.0,7.4 123.1,7.7 124.2,8.3C125.2,8.8 126.2,9.5 127.2,10.3C128.2,11.1 129.1,12.1 129.9,13.1C130.8,14.2 131.6,15.3 132.4,16.5C133.2,17.6 134.0,18.8 134.7,20.0C135.5,21.1 136.2,22.3 136.9,23.5C137.6,24.7 138.3,25.8 138.9,27.0C139.6,28.2 140.3,29.4 140.9,30.6C141.6,31.7 142.2,32.9 142.8,34.1C143.5,35.3 144.1,36.5 144.7,37.6C145.4,38.8 146.0,40.0 146.6,41.1C147.3,42.3 147.9,43.5 148.6,44.6C149.2,45.8 149.9,46.9 150.6,48.0C151.3,49.2 152.0,50.3 152.7,51.4C153.4,52.5 154.1,53.7 154.9,54.8C155.6,55.9 156.4,56.9 157.1,58.0C157.9,59.1 158.7,60.1 159.5,61.2C160.3,62.2 161.2,63.2 162.0,64.2C162.9,65.2 163.8,66.2 164.7,67.2C165.6,68.1 166.5,69.1 167.5,70.0C168.4,70.9 169.4,71.8 170.4,72.7C171.5,73.5 172.5,74.4 173.6,75.2C174.6,76.0 175.7,76.9 176.8,77.6C177.9,78.4 179.1,79.2 180.2,80.0C181.3,80.8 182.4,81.5 183.6,82.3C184.7,83.0 185.9,83.8 187.0,84.6C188.2,85.3 189.3,86.1 190.4,86.8C191.6,87.6 192.7,88.4 193.8,89.1C194.9,89.9 196.0,90.7 197.1,91.5C198.2,92.3 199.2,93.1 200.3,94.0C201.3,94.8 202.3,95.7 203.3,96.6C204.3,97.5 205.2,98.4 206.2,99.3C207.1,100.2 208.0,101.1 208.9,102.1C209.8,103.0 210.7,104.0 211.6,105.0C212.4,106.0 213.3,107.0 214.1,108.0C214.9,109.0 215.7,110.0 216.5,111.1C217.3,112.1 218.0,113.2 218.8,114.3C219.5,115.3 220.2,116.4 220.9,117.5C221.6,118.6 222.3,119.7 223.0,120.9C223.7,122.0 224.3,123.1 225.0,124.3C225.6,125.4 226.2,126.6 226.9,127.8C227.5,128.9 228.1,130.1 228.6,131.3C229.2,132.5 229.8,133.7 230.4,134.9C230.9,136.1 231.5,137.3 232.0,138.5C232.5,139.8 233.0,141.0 233.5,142.3C234.0,143.5 234.5,144.7 235.0,146.0C235.5,147.3 236.0,148.5 236.4,149.8C236.9,151.1 237.4,152.3 237.8,153.6C238.2,154.9 238.7,156.2 239.1,157.5C239.5,158.8 239.9,160.1 240.3,161.4C240.8,162.7 241.2,164.0 241.6,165.3C241.9,166.6 242.3,167.9 242.7,169.2C243.1,170.5 243.5,171.8 243.8,173.1C244.2,174.4 244.6,175.8 244.9,177.1C245.3,178.4 245.7,179.7 246.0,181.0C246.4,182.3 246.7,183.7 247.1,185.0C247.4,186.3 247.7,187.6 248.1,188.9C248.4,190.2 248.8,191.5 249.1,192.8C249.4,194.2 249.8,195.5 250.1,196.8C250.4,198.1 250.7,199.4 251.1,200.7C251.4,202.0 251.7,203.3 252.0,204.6C252.4,205.9 252.7,207.2 253.0,208.5C253.3,209.8 253.6,211.1 253.9,212.4C254.2,213.7 254.5,215.0 254.8,216.3C255.2,217.6 255.5,218.9 255.8,220.2C256.1,221.5 256.4,222.8 256.7,224.1C257.0,225.4 257.3,226.7 257.5,228.0C257.8,229.3 258.1,230.6 258.4,231.9C258.7,233.2 259.0,234.5 259.3,235.8C259.6,237.1 259.9,238.4 260.1,239.7C260.4,241.0 260.7,242.3 261.0,243.6C261.3,244.9 261.5,246.2 261.8,247.5C262.1,248.8 262.4,250.1 262.6,251.4C262.9,252.7 263.2,254.0 263.4,255.3C263.7,256.6 264.0,257.9 264.3,259.2C264.5,260.5 264.8,261.8 265.0,263.1C265.3,264.4 265.6,265.7 265.8,267.0C266.1,268.3 266.4,269.6 266.6,270.9C266.9,272.2 267.1,273.5 267.4,274.8C267.6,276.1 267.9,277.4 268.2,278.7C268.4,280.0 268.7,281.3 268.9,282.6C269.2,283.9 269.4,285.2 269.7,286.5C269.9,287.9 270.2,289.2 270.4,290.5C270.7,291.8 270.9,293.1 271.2,294.4C271.4,295.7 271.7,297.0 271.9,298.3C272.2,299.7 272.4,301.0 272.7,302.3C272.9,303.6 273.1,304.9 273.4,306.2C273.6,307.5 273.9,308.9 274.1,310.2C274.4,311.5 274.6,312.8 274.9,314.1C275.1,315.4 275.3,316.8 275.6,318.1C275.8,319.4 276.1,320.7 276.3,322.0C276.6,323.4 276.8,324.7 277.0,326.0C277.3,327.3 277.5,328.6 277.8,330.0C278.0,331.3 278.3,332.6 278.5,333.9C278.7,335.3 279.0,336.6 279.2,337.9C279.5,339.2 279.7,340.5 280.0,341.9C280.2,343.2 280.5,344.5 280.7,345.8C281.0,347.2 281.2,348.5 281.4,349.8C281.7,351.1 281.9,352.5 282.2,353.8C282.4,355.1 282.7,356.4 282.9,357.7C283.2,359.1 283.4,360.4 283.7,361.7C283.9,363.0 284.2,364.4 284.4,365.7C284.7,367.0 285.0,368.3 285.2,369.7C285.5,371.0 285.7,372.3 286.0,373.6C286.2,374.9 286.5,376.3 286.8,377.6C287.0,378.9 287.3,380.2 287.5,381.5C287.8,382.9 288.1,384.2 288.3,385.5C288.6,386.8 288.9,388.2 289.1,389.5C289.4,390.8 289.7,392.1 290.0,393.4C290.3,394.7 290.6,396.0 290.9,397.3C291.2,398.6 291.5,399.9 291.9,401.2C292.3,402.5 292.6,403.7 293.0,405.0C293.5,406.2 293.9,407.5 294.4,408.7C294.8,409.9 295.3,411.2 295.9,412.4C296.4,413.5 297.0,414.7 297.7,415.9C298.3,417.0 299.0,418.2 299.7,419.3C300.4,420.4 301.2,421.5 302.1,422.6C302.9,423.6 303.8,424.7 304.7,425.6C305.7,426.5 306.7,427.4 307.8,428.1C308.8,428.9 310.0,429.5 311.2,430.0C312.3,430.4 313.6,430.7 314.9,430.9C316.1,431.0 317.5,431.0 318.8,431.0C320.1,430.9 321.4,430.7 322.7,430.5C324.0,430.3 325.3,430.0 326.7,429.6C328.0,429.3 329.3,428.9 330.6,428.5C331.9,428.0 333.2,427.6 334.6,427.1C335.9,426.7 337.2,426.2 338.5,425.8C339.8,425.3 341.1,424.9 342.5,424.5C343.8,424.1 345.1,423.7 346.4,423.5C347.7,423.2 349.0,422.9 350.3,422.8C351.7,422.6 353.0,422.6 354.3,422.6C355.6,422.6 356.9,422.6 358.2,422.7C359.5,422.9 360.8,423.0 362.1,423.3C363.4,423.5 364.7,423.8 366.0,424.1C367.3,424.4 368.6,424.7 369.9,425.1C371.2,425.5 372.5,425.9 373.8,426.3C375.0,426.7 376.3,427.2 377.6,427.7C378.9,428.1 380.2,428.6 381.4,429.0C382.7,429.5 384.0,430.0 385.3,430.4C386.6,430.9 387.8,431.3 389.1,431.7C390.4,432.1 391.7,432.5 393.0,432.8C394.3,433.2 395.6,433.5 396.9,433.7C398.2,434.0 399.5,434.2 400.8,434.3C402.1,434.4 403.5,434.5 404.8,434.5C406.1,434.5 407.5,434.4 408.8,434.3C410.1,434.1 411.5,433.8 412.7,433.5C414.0,433.1 415.3,432.7 416.5,432.2C417.7,431.6 418.8,431.0 419.9,430.2C421.0,429.5 422.0,428.6 423.0,427.7C424.0,426.8 424.9,425.8 425.8,424.8C426.7,423.8 427.5,422.8 428.3,421.7C429.2,420.6 429.9,419.6 430.7,418.4C431.4,417.3 432.1,416.2 432.8,415.0C433.5,413.9 434.1,412.7 434.7,411.5C435.3,410.3 435.9,409.1 436.5,407.9C437.1,406.6 437.6,405.4 438.1,404.2C438.7,402.9 439.2,401.7 439.7,400.4C440.2,399.1 440.7,397.9 441.1,396.6C441.6,395.4 442.0,394.1 442.5,392.8C442.9,391.6 443.4,390.3 443.8,389.0C444.2,387.7 444.6,386.5 445.0,385.2C445.4,383.9 445.8,382.6 446.2,381.3C446.5,380.1 446.9,378.8 447.3,377.5C447.6,376.2 448.0,374.9 448.4,373.6C448.7,372.3 449.0,371.1 449.4,369.8C449.7,368.5 450.0,367.2 450.4,365.9C450.7,364.6 451.0,363.3 451.3,362.0C451.7,360.7 452.0,359.4 452.3,358.1C452.6,356.8 452.9,355.5 453.2,354.2C453.5,352.9 453.9,351.6 454.2,350.3C454.5,349.0 454.8,347.7 455.1,346.4C455.4,345.1 455.7,343.8 456.0,342.5C456.3,341.2 456.6,339.9 457.0,338.6C457.3,337.3 457.6,336.0 457.9,334.7C458.2,333.4 458.5,332.1 458.8,330.8C459.1,329.5 459.4,328.2 459.7,326.9C460.0,325.6 460.4,324.3 460.7,323.0C461.0,321.7 461.3,320.4 461.6,319.1C461.9,317.8 462.2,316.5 462.5,315.2C462.8,313.9 463.2,312.6 463.5,311.3C463.8,310.0 464.1,308.7 464.4,307.4C464.7,306.1 465.0,304.8 465.4,303.5C465.7,302.2 466.0,300.9 466.3,299.6C466.6,298.3 466.9,297.0 467.3,295.7C467.6,294.4 467.9,293.1 468.2,291.9C468.5,290.6 468.9,289.3 469.2,288.0C469.5,286.7 469.8,285.4 470.2,284.1C470.5,282.8 470.8,281.5 471.1,280.2C471.5,278.9 471.8,277.6 472.1,276.3C472.5,275.0 472.8,273.7 473.1,272.4C473.4,271.1 473.8,269.8 474.1,268.5C474.5,267.2 474.8,265.9 475.1,264.6C475.5,263.3 475.8,262.1 476.2,260.8C476.5,259.5 476.8,258.2 477.2,256.9C477.5,255.6 477.9,254.3 478.2,253.0C478.6,251.7 478.9,250.4 479.3,249.1C479.6,247.9 480.0,246.6 480.3,245.3C480.7,244.0 481.1,242.7 481.4,241.4C481.8,240.1 482.1,238.8 482.5,237.6C482.9,236.3 483.2,235.0 483.6,233.7C484.0,232.4 484.4,231.1 484.7,229.9C485.1,228.6 485.5,227.3 485.9,226.0C486.2,224.7 486.6,223.4 487.0,222.2C487.4,220.9 487.8,219.6 488.2,218.3C488.6,217.0 489.0,215.8 489.4,214.5C489.7,213.2 490.1,211.9 490.5,210.7C490.9,209.4 491.4,208.1 491.8,206.8C492.2,205.6 492.6,204.3 493.0,203.0C493.4,201.8 493.8,200.5 494.2,199.2C494.7,198.0 495.1,196.7 495.5,195.4C495.9,194.2 496.4,192.9 496.8,191.6C497.2,190.4 497.6,189.1 498.1,187.8C498.5,186.6 499.0,185.3 499.4,184.0C499.9,182.8 500.3,181.5 500.8,180.3C501.2,179.0 501.7,177.7 502.1,176.5C502.6,175.2 503.0,174.0 503.5,172.7C504.0,171.5 504.4,170.2 504.9,169.0C505.4,167.7 505.9,166.5 506.3,165.2C506.8,164.0 507.3,162.7 507.8,161.5C508.3,160.2 508.8,159.0 509.3,157.7C509.8,156.5 510.3,155.3 510.8,154.0C511.3,152.8 511.8,151.5 512.3,150.3C512.8,149.1 513.3,147.8 513.9,146.6C514.4,145.3 514.9,144.1 515.4,142.9C516.0,141.6 516.5,140.4 517.1,139.2C517.6,138.0 518.1,136.7 518.7,135.5C519.2,134.3 519.8,133.1 520.4,131.9C520.9,130.6 521.5,129.4 522.1,128.2C522.6,127.0 523.2,125.8 523.8,124.6C524.4,123.4 525.0,122.2 525.6,121.0C526.2,119.8 526.8,118.6 527.4,117.4C528.0,116.2 528.6,115.0 529.3,113.8C529.9,112.7 530.5,111.5 531.2,110.3C531.8,109.1 532.4,108.0 533.1,106.8C533.7,105.6 534.4,104.5 535.1,103.3C535.7,102.2 536.4,101.0 537.1,99.9C537.8,98.7 538.5,97.6 539.2,96.5C539.9,95.3 540.6,94.2 541.3,93.1C542.1,92.0 542.8,90.9 543.5,89.8C544.3,88.6 545.1,87.6 545.8,86.5C546.6,85.4 547.4,84.3 548.2,83.2C549.0,82.2 549.8,81.1 550.6,80.1C551.4,79.0 552.3,78.0 553.1,76.9C554.0,75.9 554.8,74.9 555.7,73.9C556.6,72.9 557.5,71.9 558.4,70.9C559.3,69.9 560.2,69.0 561.2,68.0C562.1,67.0 563.1,66.1 564.1,65.2C565.0,64.2 566.0,63.3 567.0,62.4C568.1,61.5 569.1,60.6 570.1,59.8C571.2,58.9 572.2,58.1 573.3,57.3C574.4,56.4 575.4,55.6 576.5,54.9C577.6,54.1 578.8,53.3 579.9,52.6C581.0,51.9 582.2,51.2 583.3,50.5C584.5,49.8 585.6,49.2 586.8,48.5C588.0,47.9 589.2,47.3 590.4,46.8C591.6,46.2 592.8,45.7 594.1,45.2C595.3,44.7 596.5,44.2 597.8,43.7C599.0,43.3 600.3,42.8 601.6,42.4C602.8,42.0 604.1,41.6 605.4,41.3C606.7,40.9 608.0,40.6 609.3,40.3C610.6,39.9 611.9,39.7 613.2,39.4C614.5,39.1 615.8,38.8 617.1,38.6C618.4,38.3 619.8,38.1 621.1,37.9C622.4,37.7 623.7,37.4 625.1,37.3C626.4,37.1 627.7,36.9 629.0,36.7C630.4,36.5 631.7,36.4 633.0,36.2C634.4,36.1 635.7,35.9 637.0,35.8C638.3,35.7 639.7,35.6 641.0,35.5C642.3,35.4 643.7,35.3 645.0,35.2C646.3,35.1 647.7,35.0 649.0,34.9C650.3,34.9 651.7,34.8 653.0,34.8C654.3,34.7 655.7,34.7 657.0,34.6C658.3,34.6 659.7,34.6 661.0,34.5C662.4,34.5 663.7,34.5 665.0,34.5C666.4,34.5 667.7,34.5 669.0,34.5C670.4,34.5 671.7,34.5 673.1,34.6C674.4,34.6 675.7,34.6 677.1,34.7C678.4,34.7 679.7,34.7 681.1,34.8C682.4,34.8 683.8,34.9 685.1,34.9C686.4,35.0 687.8,35.1 689.1,35.1C690.5,35.2 691.8,35.3 693.1,35.3C694.5,35.4 695.8,35.5 697.2,35.6C698.5,35.6 699.8,35.7 701.2,35.8C702.5,35.9 703.9,36.0 705.2,36.1C706.5,36.2 707.9,36.3 709.2,36.4C710.5,36.5 711.9,36.6 713.2,36.7C714.6,36.8 715.9,36.9 717.2,37.0C718.6,37.1 719.9,37.2 721.2,37.3C722.6,37.4 723.9,37.5 725.3,37.6C726.6,37.7 727.9,37.9 729.3,38.0C730.6,38.1 731.9,38.2 733.3,38.3C734.6,38.4 735.9,38.5 737.3,38.6C738.6,38.7 739.9,38.8 741.3,38.9C742.6,39.0 743.9,39.1 745.3,39.2C746.6,39.3 747.9,39.4 749.3,39.5C750.6,39.6 751.9,39.7 753.3,39.7C754.6,39.8 755.9,39.9 757.3,40.0C758.6,40.0 759.9,40.1 761.3,40.2C762.6,40.2 763.9,40.3 765.3,40.3C766.6,40.4 767.9,40.4 769.3,40.5C770.6,40.5 771.9,40.5 773.3,40.6C774.6,40.6 775.9,40.6 777.3,40.6C778.6,40.6 779.9,40.6 781.3,40.6C782.6,40.6 783.9,40.6 785.3,40.6C786.6,40.5 787.9,40.5 789.3,40.5C790.6,40.4 792.0,40.4 793.3,40.3C794.6,40.2 796.0,40.2 797.3,40.1C798.6,40.0 800.0,39.9 801.3,39.8C802.7,39.7 804.7,39.5 805.3,39.4" stroke="#000000"/>
<path d="M88.8,5.5C89.5,5.5 91.5,5.6 92.8,5.6C94.2,5.6 95.5,5.6 96.8,5.7C98.2,5.7 99.5,5.7 100.8,5.7C102.2,5.8 103.5,5.8 104.9,5.8C106.2,5.8 107.6,5.9 108.9,5.9C110.2,5.9 111.6,6.0 112.9,6.0C114.3,6.1 115.6,6.1 116.9,6.2C118.3,6.2 119.6,6.3 121.0,6.4C122.3,6.4 123.6,6.5 125.0,6.6C126.3,6.7 127.6,6.8 129.0,6.9C130.3,7.0 131.6,7.1 133.0,7.2C134.3,7.4 135.6,7.5 137.0,7.7C138.3,7.8 139.6,8.0 140.9,8.2C142.3,8.3 143.6,8.5 144.9,8.7C146.2,8.9 147.6,9.2 148.9,9.4C150.2,9.6 151.5,9.9 152.8,10.1C154.1,10.4 155.4,10.7 156.7,11.0C158.1,11.3 159.4,11.6 160.7,12.0C162.0,12.3 163.3,12.7 164.6,13.1C165.9,13.4 167.2,13.8 168.4,14.2C169.7,14.5 171.0,14.9 172.3,15.3C173.6,15.6 174.9,16.0 176.2,16.3C177.5,16.7 178.8,17.0 180.1,17.2C181.4,17.5 182.7,17.8 184.0,18.0C185.4,18.2 186.7,18.4 188.0,18.5C189.3,18.6 190.6,18.7 192.0,18.8C193.3,18.9 194.6,18.9 195.9,19.0C197.3,19.0 198.6,19.1 199.9,19.1C201.3,19.1 202.6,19.1 204.0,19.2C205.3,19.2 206.7,19.2 208.0,19.3C209.4,19.3 210.7,19.4 212.1,19.4C213.4,19.5 214.8,19.6 216.1,19.7C217.5,19.8 218.8,20.0 220.2,20.1C221.5,20.3 222.9,20.4 224.2,20.6C225.5,20.8 226.9,21.0 228.2,21.2C229.5,21.5 230.9,21.7 232.2,22.0C233.5,22.3 234.8,22.6 236.1,22.9C237.4,23.2 238.7,23.6 240.0,24.0C241.2,24.3 242.5,24.7 243.7,25.2C245.0,25.6 246.2,26.1 247.5,26.6C248.7,27.1 249.9,27.6 251.1,28.1C252.3,28.7 253.4,29.3 254.6,29.9C255.8,30.5 256.9,31.1 258.0,31.8C259.1,32.5 260.2,33.2 261.3,33.9C262.4,34.7 263.4,35.5 264.5,36.3C265.5,37.1 266.5,38.0 267.5,38.8C268.5,39.7 269.5,40.6 270.4,41.5C271.4,42.5 272.3,43.4 273.2,44.4C274.2,45.4 275.1,46.4 275.9,47.4C276.8,48.4 277.7,49.5 278.5,50.5C279.4,51.6 280.2,52.7 281.0,53.8C281.8,54.9 282.6,56.0 283.4,57.2C284.1,58.3 284.9,59.4 285.6,60.6C286.4,61.8 287.1,62.9 287.8,64.1C288.5,65.3 289.2,66.5 289.9,67.7C290.6,68.9 291.2,70.1 291.9,71.3C292.5,72.5 293.2,73.8 293.8,75.0C294.4,76.2 295.0,77.4 295.6,78.6C296.2,79.9 296.8,81.1 297.3,82.3C297.9,83.5 298.5,84.7 299.0,86.0C299.5,87.2 300.1,88.4 300.6,89.6C301.1,90.8 301.7,92.0 302.2,93.3C302.7,94.5 303.2,95.7 303.7,96.9C304.2,98.1 304.7,99.3 305.2,100.5C305.7,101.8 306.2,103.0 306.8,104.2C307.3,105.4 307.8,106.6 308.3,107.8C308.8,109.0 309.3,110.2 309.8,111.4C310.4,112.7 310.9,113.9 311.4,115.1C312.0,116.3 312.5,117.5 313.1,118.7C313.7,119.9 314.2,121.1 314.8,122.3C315.4,123.5 316.0,124.7 316.6,125.9C317.2,127.1 317.9,128.4 318.5,129.6C319.2,130.7 319.8,131.9 320.6,133.1C321.3,134.3 322.0,135.4 322.8,136.5C323.5,137.6 324.3,138.7 325.2,139.7C326.0,140.8 326.9,141.8 327.8,142.7C328.7,143.7 329.7,144.6 330.7,145.4C331.7,146.3 332.8,147.1 333.8,147.8C334.9,148.6 336.0,149.3 337.2,149.9C338.3,150.6 339.5,151.2 340.7,151.7C341.9,152.2 343.1,152.7 344.4,153.2C345.7,153.6 346.9,154.0 348.2,154.3C349.5,154.6 350.9,154.9 352.2,155.2C353.5,155.4 354.9,155.6 356.2,155.8C357.6,155.9 358.9,156.1 360.3,156.2C361.7,156.3 363.1,156.3 364.4,156.3C365.8,156.4 367.2,156.3 368.5,156.3C369.9,156.2 371.3,156.1 372.6,155.9C374.0,155.8 375.3,155.6 376.6,155.3C377.9,155.0 379.2,154.7 380.5,154.3C381.8,153.9 383.1,153.5 384.3,153.0C385.5,152.5 386.7,151.9 387.9,151.3C389.0,150.6 390.2,149.9 391.3,149.2C392.4,148.4 393.4,147.6 394.4,146.7C395.4,145.8 396.4,144.9 397.4,144.0C398.3,143.0 399.2,142.0 400.1,141.0C400.9,140.0 401.7,139.0 402.5,137.9C403.3,136.9 404.0,135.8 404.8,134.7C405.5,133.6 406.2,132.5 406.8,131.4C407.5,130.3 408.1,129.1 408.7,128.0C409.3,126.8 409.9,125.7 410.5,124.5C411.1,123.3 411.6,122.1 412.2,120.9C412.7,119.7 413.2,118.5 413.8,117.3C414.3,116.1 414.8,114.9 415.4,113.6C415.9,112.4 416.4,111.2 416.9,109.9C417.5,108.7 418.0,107.5 418.5,106.2C419.1,105.0 419.6,103.7 420.2,102.5C420.7,101.2 421.3,100.0 421.8,98.7C422.4,97.5 423.0,96.2 423.6,95.0C424.1,93.7 424.7,92.5 425.3,91.3C425.9,90.0 426.5,88.8 427.1,87.5C427.7,86.3 428.4,85.1 429.0,83.9C429.6,82.6 430.3,81.4 430.9,80.2C431.6,79.0 432.2,77.8 432.9,76.6C433.6,75.5 434.3,74.3 435.0,73.1C435.7,71.9 436.4,70.8 437.1,69.7C437.9,68.5 438.6,67.4 439.4,66.3C440.1,65.2 440.9,64.1 441.7,63.0C442.5,61.9 443.3,60.8 444.1,59.8C444.9,58.7 445.8,57.7 446.6,56.7C447.5,55.7 448.3,54.7 449.2,53.7C450.1,52.7 451.0,51.8 452.0,50.8C452.9,49.9 453.8,49.0 454.8,48.1C455.8,47.2 456.8,46.4 457.8,45.5C458.8,44.7 459.8,43.9 460.9,43.1C461.9,42.3 463.0,41.5 464.1,40.8C465.2,40.1 466.3,39.3 467.4,38.7C468.5,38.0 469.7,37.3 470.8,36.7C472.0,36.0 473.1,35.4 474.3,34.8C475.5,34.2 476.7,33.6 477.9,33.1C479.1,32.5 480.4,32.0 481.6,31.5C482.9,31.0 484.1,30.5 485.4,30.0C486.6,29.5 487.9,29.1 489.2,28.7C490.5,28.2 491.7,27.8 493.0,27.4C494.3,27.0 495.6,26.7 496.9,26.3C498.2,25.9 499.6,25.6 500.9,25.3C502.2,25.0 503.5,24.7 504.8,24.4C506.2,24.1 507.5,23.8 508.8,23.6C510.1,23.3 511.5,23.1 512.8,22.9C514.1,22.6 515.5,22.4 516.8,22.2C518.1,22.0 519.4,21.9 520.8,21.7C522.1,21.5 523.4,21.4 524.8,21.3C526.1,21.1 527.4,21.0 528.8,20.9C530.1,20.8 531.4,20.7 532.7,20.6C534.1,20.5 535.4,20.4 536.7,20.4C538.1,20.3 539.4,20.3 540.7,20.2C542.1,20.2 543.4,20.2 544.7,20.1C546.1,20.1 547.4,20.1 548.7,20.1C550.1,20.1 551.4,20.1 552.7,20.1C554.1,20.2 555.4,20.2 556.7,20.2C558.1,20.3 559.4,20.3 560.8,20.3C562.1,20.4 563.4,20.5 564.8,20.5C566.1,20.6 567.4,20.7 568.8,20.7C570.1,20.8 571.4,20.9 572.8,21.0C574.1,21.1 575.4,21.2 576.8,21.3C578.1,21.4 579.5,21.5 580.8,21.6C582.1,21.7 583.5,21.8 584.8,21.9C586.1,22.1 587.5,22.2 588.8,22.3C590.2,22.4 591.5,22.6 592.8,22.7C594.2,22.8 595.5,22.9 596.8,23.1C598.2,23.2 599.5,23.4 600.9,23.5C602.2,23.6 603.5,23.8 604.9,23.9C606.2,24.0 607.5,24.2 608.9,24.3C610.2,24.5 611.6,24.6 612.9,24.7C614.2,24.9 615.6,25.0 616.9,25.1C618.2,25.3 619.6,25.4 620.9,25.5C622.3,25.7 623.6,25.8 624.9,25.9C626.3,26.0 627.6,26.2 628.9,26.3C630.3,26.4 631.6,26.5 633.0,26.6C634.3,26.8 635.6,26.9 637.0,27.0C638.3,27.1 639.6,27.2 641.0,27.3C642.3,27.4 643.6,27.5 645.0,27.6C646.3,27.7 647.7,27.8 649.0,27.9C650.3,28.0 651.7,28.1 653.0,28.2C654.3,28.3 655.7,28.4 657.0,28.5C658.3,28.5 659.7,28.6 661.0,28.7C662.4,28.8 663.7,28.9 665.0,29.0C666.4,29.0 667.7,29.1 669.0,29.2C670.4,29.3 671.7,29.4 673.0,29.4C674.4,29.5 675.7,29.6 677.1,29.7C678.4,29.7 679.7,29.8 681.1,29.9C682.4,30.0 683.7,30.0 685.1,30.1C686.4,30.2 687.7,30.3 689.1,30.3C690.4,30.4 691.8,30.5 693.1,30.5C694.4,30.6 695.8,30.7 697.1,30.8C698.4,30.8 699.8,30.9 701.1,31.0C702.4,31.0 703.8,31.1 705.1,31.2C706.4,31.3 707.8,31.3 709.1,31.4C710.5,31.5 711.8,31.5 713.1,31.6C714.5,31.7 715.8,31.7 717.1,31.8C718.5,31.9 719.8,32.0 721.1,32.0C722.5,32.1 723.8,32.2 725.1,32.3C726.5,32.3 727.8,32.4 729.2,32.5C730.5,32.6 731.8,32.7 733.2,32.7C734.5,32.8 735.8,32.9 737.2,33.0C738.5,33.1 739.8,33.1 741.2,33.2C742.5,33.3 743.8,33.4 745.2,33.5C746.5,33.6 747.9,33.7 749.2,33.8C750.5,33.9 751.9,33.9 753.2,34.0C754.5,34.1 755.9,34.2 757.2,34.3C758.5,34.4 759.9,34.5 761.2,34.6C762.5,34.8 763.9,34.9 765.2,35.0C766.6,35.1 767.9,35.2 769.2,35.3C770.6,35.4 771.9,35.5 773.2,35.7C774.6,35.8 775.9,35.9 777.2,36.0C778.6,36.2 779.9,36.3 781.3,36.4C782.6,36.5 783.9,36.7 785.3,36.8C786.6,37.0 787.9,37.1 789.3,37.2C790.6,37.4 791.9,37.5 793.3,37.7C794.6,37.8 796.0,38.0 797.3,38.2C798.6,38.3 800.0,38.5 801.3,38.6C802.6,38.8 804.6,39.1 805.3,39.2" stroke="#00ffff" stroke-dasharray="10.9 6.57"/>
<path d="M88.8,5.4C89.5,5.5 91.5,5.6 92.8,5.6C94.2,5.7 95.5,5.8 96.8,5.9C98.2,6.0 99.5,6.1 100.8,6.3C102.2,6.4 103.5,6.5 104.9,6.7C106.2,6.8 107.5,7.0 108.9,7.1C110.2,7.3 111.5,7.4 112.9,7.6C114.2,7.8 115.5,8.0 116.8,8.2C118.2,8.4 119.5,8.6 120.8,8.9C122.1,9.1 123.5,9.3 124.8,9.6C126.1,9.8 127.4,10.1 128.7,10.4C130.0,10.7 131.3,11.0 132.6,11.3C133.9,11.6 135.2,11.9 136.5,12.3C137.8,12.6 139.1,12.9 140.4,13.3C141.7,13.7 143.0,14.1 144.3,14.5C145.5,14.9 146.8,15.3 148.1,15.7C149.3,16.1 150.6,16.6 151.9,17.0C153.1,17.5 154.4,18.0 155.6,18.5C156.9,19.0 158.1,19.5 159.4,20.0C160.6,20.5 161.8,21.0 163.1,21.5C164.3,22.1 165.6,22.6 166.8,23.1C168.0,23.6 169.3,24.1 170.5,24.6C171.8,25.1 173.0,25.6 174.3,26.0C175.5,26.5 176.8,27.0 178.0,27.4C179.3,27.8 180.5,28.2 181.8,28.6C183.1,29.0 184.4,29.3 185.7,29.6C186.9,29.9 188.2,30.2 189.6,30.5C190.9,30.7 192.2,30.9 193.5,31.1C194.8,31.2 196.2,31.4 197.5,31.5C198.9,31.6 200.2,31.7 201.6,31.8C202.9,32.0 204.3,32.0 205.6,32.2C207.0,32.3 208.3,32.4 209.7,32.6C211.0,32.7 212.4,32.9 213.7,33.1C215.0,33.3 216.4,33.6 217.7,33.9C219.0,34.2 220.3,34.5 221.6,34.9C222.9,35.3 224.2,35.7 225.5,36.2C226.7,36.6 228.0,37.1 229.2,37.7C230.4,38.2 231.6,38.8 232.8,39.4C234.0,40.0 235.2,40.7 236.3,41.4C237.4,42.1 238.5,42.8 239.6,43.6C240.7,44.3 241.7,45.1 242.7,46.0C243.8,46.8 244.8,47.7 245.8,48.6C246.8,49.4 247.7,50.4 248.7,51.3C249.6,52.2 250.5,53.2 251.4,54.2C252.3,55.2 253.2,56.2 254.1,57.2C254.9,58.3 255.8,59.3 256.6,60.4C257.4,61.5 258.3,62.5 259.0,63.6C259.8,64.7 260.6,65.9 261.4,67.0C262.1,68.1 262.9,69.2 263.6,70.4C264.3,71.5 265.1,72.7 265.8,73.9C266.5,75.0 267.2,76.2 267.8,77.4C268.5,78.5 269.2,79.7 269.8,80.9C270.5,82.1 271.1,83.3 271.8,84.5C272.4,85.6 273.0,86.8 273.6,88.0C274.2,89.2 274.8,90.4 275.4,91.6C276.0,92.8 276.6,94.1 277.1,95.3C277.7,96.5 278.2,97.7 278.8,98.9C279.3,100.1 279.9,101.4 280.4,102.6C280.9,103.8 281.4,105.0 281.9,106.3C282.4,107.5 282.9,108.7 283.4,110.0C283.9,111.2 284.4,112.5 284.9,113.7C285.4,114.9 285.8,116.2 286.3,117.4C286.7,118.7 287.2,119.9 287.6,121.2C288.1,122.5 288.5,123.7 288.9,125.0C289.4,126.2 289.8,127.5 290.2,128.8C290.6,130.0 291.0,131.3 291.4,132.6C291.8,133.9 292.2,135.1 292.6,136.4C293.0,137.7 293.4,139.0 293.8,140.3C294.2,141.5 294.5,142.8 294.9,144.1C295.3,145.4 295.7,146.7 296.0,148.0C296.4,149.3 296.7,150.6 297.1,151.9C297.4,153.2 297.8,154.5 298.1,155.8C298.5,157.1 298.8,158.4 299.2,159.7C299.5,161.0 299.9,162.3 300.2,163.6C300.5,164.9 300.9,166.2 301.2,167.5C301.5,168.8 301.9,170.1 302.2,171.5C302.5,172.8 302.8,174.1 303.2,175.4C303.5,176.7 303.8,178.0 304.1,179.4C304.5,180.7 304.8,182.0 305.1,183.3C305.4,184.6 305.8,185.9 306.1,187.3C306.4,188.6 306.7,189.9 307.1,191.2C307.4,192.5 307.7,193.8 308.0,195.1C308.4,196.5 308.7,197.8 309.0,199.1C309.3,200.4 309.7,201.7 310.0,203.0C310.3,204.3 310.7,205.6 311.0,206.9C311.4,208.2 311.7,209.5 312.0,210.8C312.4,212.0 312.7,213.3 313.1,214.6C313.4,215.9 313.8,217.2 314.1,218.4C314.5,219.7 314.8,221.0 315.2,222.2C315.6,223.5 315.9,224.7 316.3,226.0C316.7,227.2 317.1,228.5 317.5,229.7C317.9,230.9 318.3,232.2 318.7,233.4C319.2,234.7 319.6,235.9 320.1,237.1C320.6,238.4 321.1,239.6 321.6,240.9C322.1,242.1 322.7,243.3 323.2,244.6C323.8,245.8 324.4,247.1 325.1,248.3C325.7,249.5 326.4,250.8 327.1,252.0C327.8,253.2 328.5,254.4 329.3,255.6C330.0,256.8 330.8,257.9 331.6,259.1C332.4,260.2 333.3,261.3 334.2,262.4C335.1,263.4 336.0,264.4 336.9,265.4C337.8,266.4 338.8,267.4 339.8,268.3C340.8,269.2 341.8,270.0 342.9,270.8C343.9,271.6 345.0,272.3 346.1,273.0C347.2,273.6 348.4,274.3 349.5,274.8C350.7,275.3 351.9,275.8 353.2,276.2C354.4,276.5 355.7,276.9 356.9,277.1C358.2,277.3 359.5,277.5 360.8,277.5C362.2,277.6 363.5,277.6 364.8,277.5C366.1,277.4 367.5,277.3 368.8,277.1C370.1,276.8 371.4,276.6 372.7,276.2C374.0,275.8 375.3,275.4 376.6,274.9C377.8,274.4 379.0,273.8 380.2,273.2C381.4,272.6 382.5,271.9 383.6,271.1C384.7,270.4 385.7,269.6 386.7,268.7C387.7,267.8 388.7,266.9 389.6,265.9C390.5,264.9 391.4,263.9 392.2,262.8C393.0,261.8 393.8,260.7 394.6,259.5C395.3,258.4 396.0,257.2 396.7,256.1C397.4,254.9 398.1,253.7 398.8,252.4C399.4,251.2 400.0,250.0 400.7,248.7C401.3,247.5 401.9,246.2 402.4,245.0C403.0,243.8 403.6,242.5 404.2,241.3C404.7,240.0 405.3,238.8 405.8,237.5C406.3,236.3 406.9,235.1 407.4,233.8C407.9,232.6 408.4,231.4 408.9,230.1C409.4,228.9 409.9,227.7 410.4,226.4C410.9,225.2 411.4,223.9 411.8,222.7C412.3,221.5 412.7,220.2 413.2,219.0C413.6,217.7 414.1,216.5 414.5,215.2C415.0,214.0 415.4,212.7 415.8,211.4C416.2,210.2 416.7,208.9 417.1,207.7C417.5,206.4 417.9,205.1 418.3,203.9C418.7,202.6 419.1,201.3 419.5,200.0C419.9,198.8 420.3,197.5 420.7,196.2C421.0,194.9 421.4,193.6 421.8,192.4C422.2,191.1 422.6,189.8 422.9,188.5C423.3,187.2 423.7,185.9 424.0,184.6C424.4,183.4 424.8,182.1 425.2,180.8C425.5,179.5 425.9,178.2 426.3,176.9C426.6,175.6 427.0,174.3 427.4,173.0C427.7,171.7 428.1,170.4 428.4,169.1C428.8,167.8 429.2,166.6 429.6,165.3C429.9,164.0 430.3,162.7 430.7,161.4C431.0,160.1 431.4,158.8 431.8,157.5C432.2,156.2 432.5,154.9 432.9,153.6C433.3,152.3 433.7,151.0 434.1,149.7C434.5,148.5 434.9,147.2 435.3,145.9C435.7,144.6 436.1,143.3 436.5,142.0C436.9,140.7 437.3,139.4 437.7,138.2C438.1,136.9 438.6,135.6 439.0,134.3C439.4,133.1 439.9,131.8 440.3,130.5C440.8,129.2 441.2,128.0 441.7,126.7C442.1,125.4 442.6,124.2 443.1,122.9C443.6,121.7 444.0,120.4 444.5,119.1C445.0,117.9 445.5,116.6 446.0,115.4C446.6,114.2 447.1,112.9 447.6,111.7C448.1,110.5 448.7,109.2 449.2,108.0C449.8,106.8 450.4,105.6 450.9,104.4C451.5,103.2 452.1,102.0 452.7,100.8C453.3,99.6 453.9,98.4 454.5,97.2C455.2,96.0 455.8,94.8 456.4,93.7C457.1,92.5 457.8,91.4 458.4,90.2C459.1,89.1 459.8,87.9 460.5,86.8C461.2,85.7 462.0,84.5 462.7,83.4C463.4,82.3 464.2,81.2 465.0,80.1C465.7,79.0 466.5,77.9 467.3,76.9C468.1,75.8 468.9,74.7 469.8,73.7C470.6,72.6 471.5,71.6 472.3,70.6C473.2,69.5 474.1,68.5 475.0,67.5C475.9,66.5 476.8,65.5 477.8,64.5C478.7,63.6 479.7,62.6 480.6,61.7C481.6,60.7 482.6,59.8 483.6,58.8C484.6,57.9 485.6,57.0 486.7,56.1C487.7,55.2 488.8,54.4 489.8,53.5C490.9,52.7 492.0,51.8 493.1,51.0C494.1,50.2 495.2,49.4 496.4,48.6C497.5,47.8 498.6,47.1 499.7,46.3C500.9,45.6 502.0,44.9 503.1,44.2C504.3,43.5 505.5,42.8 506.6,42.2C507.8,41.5 509.0,40.9 510.2,40.3C511.4,39.7 512.6,39.1 513.8,38.5C515.0,38.0 516.2,37.4 517.4,36.9C518.6,36.4 519.8,35.9 521.1,35.4C522.3,35.0 523.5,34.5 524.8,34.1C526.0,33.7 527.3,33.2 528.5,32.8C529.8,32.5 531.0,32.1 532.3,31.7C533.6,31.4 534.8,31.0 536.1,30.7C537.4,30.4 538.7,30.1 540.0,29.8C541.3,29.5 542.6,29.2 543.9,29.0C545.2,28.7 546.5,28.5 547.8,28.3C549.1,28.0 550.4,27.8 551.7,27.6C553.0,27.5 554.3,27.3 555.7,27.1C557.0,26.9 558.3,26.8 559.7,26.6C561.0,26.5 562.3,26.4 563.7,26.3C565.0,26.1 566.3,26.0 567.7,25.9C569.0,25.8 570.4,25.8 571.7,25.7C573.1,25.6 574.4,25.5 575.8,25.5C577.1,25.4 578.5,25.4 579.8,25.3C581.2,25.3 582.5,25.3 583.9,25.3C585.3,25.2 586.6,25.2 588.0,25.2C589.3,25.2 590.7,25.2 592.1,25.2C593.4,25.2 594.8,25.2 596.1,25.2C597.5,25.2 598.9,25.3 600.2,25.3C601.6,25.3 603.0,25.3 604.3,25.4C605.7,25.4 607.0,25.4 608.4,25.5C609.8,25.5 611.1,25.5 612.5,25.6C613.8,25.6 615.2,25.7 616.6,25.7C617.9,25.8 619.3,25.8 620.6,25.8C622.0,25.9 623.3,25.9 624.7,26.0C626.0,26.0 627.4,26.1 628.7,26.1C630.1,26.2 631.4,26.2 632.8,26.3C634.1,26.4 635.5,26.4 636.8,26.5C638.2,26.5 639.5,26.6 640.8,26.6C642.2,26.7 643.5,26.8 644.9,26.8C646.2,26.9 647.6,27.0 648.9,27.0C650.2,27.1 651.6,27.2 652.9,27.2C654.3,27.3 655.6,27.4 656.9,27.4C658.3,27.5 659.6,27.6 661.0,27.6C662.3,27.7 663.6,27.8 665.0,27.9C666.3,27.9 667.6,28.0 669.0,28.1C670.3,28.2 671.6,28.2 673.0,28.3C674.3,28.4 675.6,28.5 677.0,28.6C678.3,28.6 679.6,28.7 681.0,28.8C682.3,28.9 683.6,29.0 685.0,29.1C686.3,29.1 687.6,29.2 689.0,29.3C690.3,29.4 691.6,29.5 692.9,29.6C694.3,29.7 695.6,29.8 696.9,29.8C698.3,29.9 699.6,30.0 700.9,30.1C702.3,30.2 703.6,30.3 704.9,30.4C706.2,30.5 707.6,30.6 708.9,30.7C710.2,30.8 711.6,30.9 712.9,31.0C714.2,31.1 715.6,31.2 716.9,31.3C718.2,31.4 719.6,31.5 720.9,31.6C722.2,31.7 723.5,31.8 724.9,31.9C726.2,32.0 727.5,32.1 728.9,32.2C730.2,32.3 731.5,32.4 732.9,32.5C734.2,32.6 735.5,32.7 736.9,32.8C738.2,32.9 739.5,33.0 740.9,33.1C742.2,33.2 743.5,33.3 744.9,33.5C746.2,33.6 747.5,33.7 748.9,33.8C750.2,33.9 751.5,34.0 752.9,34.1C754.2,34.2 755.6,34.3 756.9,34.4C758.2,34.6 759.6,34.7 760.9,34.8C762.3,34.9 763.6,35.0 764.9,35.1C766.3,35.2 767.6,35.4 769.0,35.5C770.3,35.6 771.7,35.7 773.0,35.8C774.3,35.9 775.7,36.0 777.0,36.2C778.4,36.3 779.7,36.4 781.1,36.5C782.4,36.6 783.8,36.8 785.1,36.9C786.5,37.0 787.8,37.1 789.2,37.2C790.5,37.3 791.9,37.5 793.2,37.6C794.6,37.7 796.0,37.8 797.3,37.9C798.7,38.1 800.0,38.2 801.4,38.3C802.8,38.4 804.8,38.6 805.5,38.7" stroke="#00ff00" stroke-dasharray="10.9 6.57"/>
<path d="M89.0,5.2C89.5,5.5 91.3,6.6 92.4,7.2C93.6,7.8 94.8,8.4 96.1,8.9C97.3,9.4 98.5,9.9 99.8,10.4C101.0,10.8 102.3,11.3 103.6,11.7C104.9,12.1 106.2,12.5 107.5,12.8C108.8,13.2 110.1,13.6 111.4,13.9C112.7,14.3 114.0,14.6 115.3,15.0C116.6,15.4 117.9,15.7 119.2,16.1C120.5,16.5 121.8,16.8 123.1,17.3C124.4,17.7 125.7,18.1 126.9,18.5C128.2,19.0 129.4,19.5 130.7,20.0C131.9,20.5 133.1,21.1 134.3,21.7C135.5,22.3 136.6,22.9 137.8,23.6C138.9,24.3 140.1,25.0 141.2,25.7C142.3,26.4 143.4,27.2 144.5,28.0C145.6,28.7 146.7,29.5 147.8,30.3C148.9,31.1 150.0,31.9 151.1,32.7C152.1,33.5 153.2,34.3 154.3,35.1C155.4,35.9 156.5,36.7 157.6,37.5C158.7,38.3 159.8,39.0 160.9,39.8C162.0,40.5 163.1,41.2 164.2,41.9C165.4,42.6 166.5,43.3 167.7,43.9C168.9,44.5 170.0,45.1 171.2,45.7C172.5,46.2 173.7,46.7 174.9,47.2C176.2,47.7 177.4,48.1 178.7,48.5C180.0,48.9 181.3,49.3 182.6,49.6C183.9,50.0 185.2,50.3 186.5,50.6C187.8,50.9 189.2,51.2 190.5,51.6C191.8,51.9 193.1,52.2 194.4,52.5C195.8,52.8 197.1,53.2 198.4,53.5C199.6,53.9 200.9,54.2 202.2,54.7C203.5,55.1 204.7,55.5 206.0,56.0C207.2,56.4 208.4,57.0 209.6,57.5C210.8,58.1 211.9,58.7 213.1,59.3C214.2,60.0 215.3,60.7 216.4,61.4C217.5,62.2 218.6,62.9 219.6,63.7C220.6,64.5 221.7,65.4 222.7,66.3C223.7,67.1 224.7,68.0 225.6,69.0C226.6,69.9 227.5,70.8 228.5,71.8C229.4,72.8 230.3,73.8 231.2,74.8C232.1,75.8 232.9,76.9 233.8,77.9C234.6,79.0 235.5,80.0 236.3,81.1C237.1,82.2 237.9,83.3 238.7,84.4C239.5,85.5 240.3,86.6 241.1,87.7C241.9,88.8 242.6,89.9 243.4,91.0C244.1,92.1 244.8,93.3 245.5,94.4C246.2,95.5 246.9,96.7 247.6,97.8C248.3,99.0 249.0,100.1 249.6,101.3C250.3,102.4 250.9,103.6 251.6,104.8C252.2,105.9 252.8,107.1 253.4,108.3C254.0,109.5 254.6,110.7 255.2,111.9C255.8,113.1 256.4,114.3 256.9,115.5C257.5,116.7 258.0,117.9 258.6,119.1C259.1,120.3 259.6,121.5 260.1,122.8C260.6,124.0 261.1,125.2 261.6,126.5C262.1,127.7 262.6,128.9 263.1,130.2C263.5,131.4 264.0,132.7 264.5,133.9C264.9,135.2 265.4,136.4 265.8,137.7C266.2,139.0 266.6,140.2 267.1,141.5C267.5,142.8 267.9,144.0 268.3,145.3C268.7,146.6 269.1,147.9 269.5,149.1C269.8,150.4 270.2,151.7 270.6,153.0C271.0,154.3 271.3,155.6 271.7,156.9C272.0,158.2 272.4,159.5 272.7,160.8C273.1,162.1 273.4,163.4 273.7,164.7C274.1,166.0 274.4,167.3 274.7,168.6C275.0,169.9 275.3,171.2 275.6,172.5C276.0,173.8 276.3,175.1 276.6,176.4C276.9,177.8 277.2,179.1 277.4,180.4C277.7,181.7 278.0,183.0 278.3,184.3C278.6,185.6 278.9,187.0 279.2,188.3C279.4,189.6 279.7,190.9 280.0,192.2C280.2,193.6 280.5,194.9 280.8,196.2C281.0,197.5 281.3,198.8 281.6,200.2C281.8,201.5 282.1,202.8 282.4,204.1C282.6,205.4 282.9,206.7 283.1,208.1C283.4,209.4 283.6,210.7 283.9,212.0C284.1,213.3 284.4,214.7 284.6,216.0C284.9,217.3 285.1,218.6 285.4,219.9C285.6,221.2 285.9,222.6 286.1,223.9C286.4,225.2 286.6,226.5 286.8,227.8C287.1,229.1 287.3,230.5 287.6,231.8C287.8,233.1 288.0,234.4 288.3,235.7C288.5,237.0 288.8,238.4 289.0,239.7C289.2,241.0 289.5,242.3 289.7,243.6C289.9,244.9 290.2,246.3 290.4,247.6C290.6,248.9 290.9,250.2 291.1,251.5C291.3,252.9 291.6,254.2 291.8,255.5C292.0,256.8 292.2,258.1 292.5,259.4C292.7,260.8 292.9,262.1 293.2,263.4C293.4,264.7 293.6,266.0 293.9,267.4C294.1,268.7 294.3,270.0 294.5,271.3C294.8,272.6 295.0,274.0 295.2,275.3C295.5,276.6 295.7,277.9 295.9,279.2C296.1,280.6 296.4,281.9 296.6,283.2C296.8,284.5 297.1,285.8 297.3,287.2C297.5,288.5 297.8,289.8 298.0,291.1C298.2,292.5 298.4,293.8 298.7,295.1C298.9,296.4 299.1,297.8 299.4,299.1C299.6,300.4 299.8,301.7 300.1,303.1C300.3,304.4 300.6,305.7 300.8,307.0C301.1,308.4 301.3,309.7 301.6,311.0C301.8,312.3 302.1,313.6 302.4,314.9C302.7,316.3 303.0,317.6 303.3,318.9C303.6,320.2 304.0,321.5 304.3,322.8C304.7,324.1 305.1,325.4 305.5,326.7C305.9,328.0 306.3,329.2 306.7,330.5C307.2,331.8 307.7,333.1 308.2,334.3C308.7,335.6 309.2,336.8 309.8,338.1C310.3,339.3 310.9,340.6 311.6,341.7C312.3,342.9 313.0,344.0 313.7,345.0C314.5,346.1 315.4,347.0 316.4,347.8C317.3,348.5 318.4,349.1 319.6,349.6C320.7,350.0 322.1,350.3 323.4,350.5C324.7,350.7 326.0,350.7 327.4,350.7C328.7,350.8 330.1,350.7 331.5,350.6C332.8,350.6 334.2,350.4 335.6,350.3C336.9,350.2 338.3,350.0 339.7,349.8C341.0,349.7 342.4,349.5 343.8,349.3C345.1,349.1 346.5,349.0 347.8,348.9C349.2,348.7 350.5,348.6 351.9,348.6C353.2,348.5 354.6,348.5 355.9,348.5C357.2,348.6 358.5,348.7 359.8,348.8C361.1,349.0 362.4,349.2 363.7,349.5C365.0,349.8 366.3,350.1 367.6,350.5C368.8,350.8 370.1,351.2 371.4,351.7C372.6,352.1 373.9,352.5 375.2,353.0C376.5,353.5 377.7,354.0 379.0,354.4C380.3,354.9 381.5,355.4 382.8,355.9C384.1,356.4 385.4,356.9 386.7,357.3C388.0,357.8 389.3,358.2 390.7,358.5C392.0,358.9 393.3,359.2 394.7,359.5C396.1,359.8 397.5,360.0 398.9,360.1C400.3,360.2 401.7,360.3 403.1,360.1C404.4,359.9 405.6,359.6 406.7,359.1C407.8,358.6 408.8,357.9 409.8,357.1C410.7,356.3 411.5,355.3 412.3,354.3C413.1,353.3 413.8,352.2 414.5,351.0C415.1,349.9 415.8,348.6 416.4,347.4C417.0,346.2 417.6,344.9 418.1,343.7C418.7,342.5 419.2,341.2 419.8,340.0C420.3,338.7 420.8,337.5 421.3,336.2C421.8,335.0 422.3,333.7 422.7,332.5C423.2,331.2 423.6,329.9 424.0,328.7C424.5,327.4 424.9,326.1 425.3,324.8C425.7,323.6 426.1,322.3 426.4,321.0C426.8,319.7 427.2,318.4 427.5,317.1C427.9,315.8 428.2,314.5 428.5,313.2C428.9,311.9 429.2,310.6 429.5,309.3C429.8,308.0 430.1,306.7 430.4,305.4C430.7,304.1 431.0,302.8 431.3,301.5C431.5,300.2 431.8,298.9 432.1,297.6C432.4,296.2 432.6,294.9 432.9,293.6C433.1,292.3 433.4,291.0 433.6,289.7C433.9,288.3 434.1,287.0 434.4,285.7C434.6,284.4 434.9,283.1 435.1,281.7C435.4,280.4 435.6,279.1 435.9,277.8C436.1,276.5 436.4,275.1 436.6,273.8C436.9,272.5 437.1,271.2 437.4,269.9C437.6,268.5 437.9,267.2 438.2,265.9C438.4,264.6 438.7,263.3 439.0,262.0C439.2,260.6 439.5,259.3 439.8,258.0C440.1,256.7 440.4,255.4 440.6,254.1C440.9,252.8 441.2,251.5 441.5,250.1C441.8,248.8 442.1,247.5 442.4,246.2C442.7,244.9 443.0,243.6 443.3,242.3C443.6,241.0 443.9,239.7 444.2,238.4C444.6,237.1 444.9,235.8 445.2,234.5C445.5,233.2 445.8,231.9 446.2,230.6C446.5,229.3 446.8,228.0 447.2,226.7C447.5,225.4 447.8,224.1 448.2,222.8C448.5,221.5 448.9,220.2 449.2,218.9C449.6,217.6 449.9,216.3 450.3,215.0C450.6,213.7 451.0,212.4 451.4,211.1C451.7,209.9 452.1,208.6 452.5,207.3C452.8,206.0 453.2,204.7 453.6,203.4C454.0,202.1 454.4,200.8 454.7,199.6C455.1,198.3 455.5,197.0 455.9,195.7C456.3,194.4 456.7,193.2 457.1,191.9C457.5,190.6 457.9,189.3 458.3,188.0C458.7,186.8 459.1,185.5 459.5,184.2C459.9,182.9 460.4,181.7 460.8,180.4C461.2,179.1 461.6,177.8 462.0,176.6C462.5,175.3 462.9,174.0 463.3,172.8C463.8,171.5 464.2,170.2 464.6,169.0C465.1,167.7 465.5,166.4 466.0,165.2C466.4,163.9 466.9,162.7 467.3,161.4C467.8,160.1 468.2,158.9 468.7,157.6C469.1,156.4 469.6,155.1 470.1,153.9C470.5,152.6 471.0,151.4 471.5,150.1C472.0,148.8 472.4,147.6 472.9,146.3C473.4,145.1 473.9,143.9 474.4,142.6C474.9,141.4 475.4,140.1 475.9,138.9C476.4,137.6 476.9,136.4 477.4,135.1C477.9,133.9 478.4,132.7 479.0,131.4C479.5,130.2 480.0,129.0 480.5,127.7C481.1,126.5 481.6,125.2 482.1,124.0C482.7,122.8 483.2,121.6 483.8,120.3C484.3,119.1 484.9,117.9 485.5,116.6C486.0,115.4 486.6,114.2 487.2,113.0C487.7,111.8 488.3,110.5 488.9,109.3C489.5,108.1 490.1,106.9 490.7,105.7C491.3,104.5 492.0,103.3 492.6,102.1C493.3,101.0 493.9,99.8 494.6,98.6C495.3,97.5 495.9,96.3 496.6,95.2C497.3,94.0 498.1,92.9 498.8,91.8C499.5,90.7 500.3,89.6 501.1,88.5C501.9,87.5 502.7,86.4 503.5,85.4C504.3,84.3 505.2,83.3 506.0,82.3C506.9,81.3 507.8,80.3 508.7,79.3C509.6,78.3 510.5,77.4 511.4,76.4C512.4,75.5 513.3,74.5 514.3,73.6C515.3,72.7 516.2,71.8 517.2,70.9C518.2,70.0 519.2,69.2 520.3,68.3C521.3,67.4 522.3,66.6 523.4,65.8C524.4,64.9 525.5,64.1 526.6,63.3C527.7,62.5 528.7,61.7 529.8,60.9C530.9,60.2 532.1,59.4 533.2,58.7C534.3,57.9 535.4,57.2 536.6,56.5C537.7,55.7 538.8,55.0 540.0,54.4C541.2,53.7 542.3,53.0 543.5,52.3C544.7,51.7 545.8,51.1 547.0,50.4C548.2,49.8 549.4,49.2 550.6,48.7C551.8,48.1 553.0,47.5 554.3,47.0C555.5,46.4 556.7,45.9 557.9,45.4C559.2,44.9 560.4,44.4 561.7,43.9C562.9,43.5 564.2,43.0 565.4,42.6C566.7,42.1 567.9,41.7 569.2,41.3C570.5,40.9 571.7,40.5 573.0,40.1C574.3,39.8 575.6,39.4 576.9,39.1C578.2,38.7 579.5,38.4 580.8,38.1C582.1,37.8 583.4,37.4 584.7,37.2C586.0,36.9 587.3,36.6 588.6,36.3C589.9,36.1 591.2,35.8 592.5,35.6C593.9,35.3 595.2,35.1 596.5,34.9C597.8,34.6 599.2,34.4 600.5,34.2C601.8,34.0 603.1,33.9 604.5,33.7C605.8,33.5 607.2,33.3 608.5,33.2C609.8,33.0 611.2,32.9 612.5,32.7C613.8,32.6 615.2,32.4 616.5,32.3C617.9,32.2 619.2,32.1 620.6,32.0C621.9,31.8 623.2,31.7 624.6,31.6C625.9,31.6 627.3,31.5 628.6,31.4C630.0,31.3 631.3,31.2 632.6,31.1C634.0,31.1 635.3,31.0 636.7,30.9C638.0,30.9 639.3,30.8 640.7,30.8C642.0,30.7 643.4,30.7 644.7,30.6C646.1,30.6 647.4,30.6 648.7,30.5C650.1,30.5 651.4,30.5 652.8,30.5C654.1,30.5 655.4,30.5 656.8,30.4C658.1,30.4 659.5,30.4 660.8,30.4C662.1,30.4 663.5,30.4 664.8,30.5C666.2,30.5 667.5,30.5 668.8,30.5C670.2,30.5 671.5,30.5 672.9,30.6C674.2,30.6 675.5,30.6 676.9,30.7C678.2,30.7 679.5,30.7 680.9,30.8C682.2,30.8 683.6,30.9 684.9,30.9C686.2,31.0 687.6,31.0 688.9,31.1C690.3,31.1 691.6,31.2 692.9,31.3C694.3,31.3 695.6,31.4 696.9,31.5C698.3,31.5 699.6,31.6 701.0,31.7C702.3,31.7 703.6,31.8 705.0,31.9C706.3,32.0 707.7,32.1 709.0,32.1C710.3,32.2 711.7,32.3 713.0,32.4C714.3,32.5 715.7,32.6 717.0,32.7C718.4,32.8 719.7,32.8 721.0,32.9C722.4,33.0 723.7,33.1 725.0,33.2C726.4,33.3 727.7,33.4 729.1,33.5C730.4,33.6 731.7,33.7 733.1,33.8C734.4,33.9 735.7,34.0 737.1,34.1C738.4,34.2 739.8,34.3 741.1,34.5C742.4,34.6 743.8,34.7 745.1,34.8C746.4,34.9 747.8,35.0 749.1,35.1C750.4,35.2 751.8,35.3 753.1,35.4C754.5,35.5 755.8,35.6 757.1,35.7C758.5,35.8 759.8,35.9 761.1,36.0C762.5,36.2 763.8,36.3 765.2,36.4C766.5,36.5 767.8,36.6 769.2,36.7C770.5,36.8 771.8,36.9 773.2,37.0C774.5,37.1 775.9,37.2 777.2,37.3C778.5,37.4 779.9,37.5 781.2,37.6C782.5,37.7 783.9,37.8 785.2,37.9C786.6,38.0 787.9,38.0 789.2,38.1C790.6,38.2 791.9,38.3 793.2,38.4C794.6,38.5 795.9,38.6 797.3,38.7C798.6,38.7 799.9,38.8 801.3,38.9C802.6,39.0 804.6,39.1 805.3,39.1" stroke="#ffa500" stroke-dasharray="10.9 6.57"/>
<path d="M88.8,4.5C89.4,4.8 91.1,5.8 92.2,6.7C93.2,7.5 94.1,8.6 95.0,9.5C96.0,10.5 96.8,11.6 97.8,12.5C98.7,13.5 99.7,14.3 100.7,15.2C101.8,16.0 102.8,16.8 103.9,17.5C105.0,18.3 106.1,19.0 107.2,19.7C108.4,20.4 109.5,21.1 110.6,21.7C111.8,22.4 112.9,23.1 114.1,23.8C115.2,24.5 116.3,25.2 117.5,25.9C118.6,26.6 119.7,27.3 120.9,28.1C122.0,28.8 123.1,29.5 124.2,30.3C125.3,31.1 126.3,31.9 127.4,32.7C128.5,33.5 129.5,34.3 130.5,35.1C131.6,36.0 132.6,36.8 133.5,37.7C134.5,38.6 135.5,39.5 136.4,40.4C137.4,41.4 138.3,42.3 139.2,43.3C140.2,44.2 141.1,45.2 142.0,46.2C142.9,47.1 143.8,48.1 144.7,49.1C145.6,50.1 146.5,51.1 147.4,52.1C148.3,53.1 149.2,54.1 150.1,55.1C151.0,56.1 151.9,57.1 152.9,58.1C153.8,59.0 154.7,60.0 155.7,61.0C156.7,61.9 157.7,62.8 158.7,63.8C159.7,64.7 160.7,65.5 161.7,66.4C162.8,67.2 163.8,68.0 164.9,68.8C166.0,69.6 167.1,70.3 168.2,71.0C169.4,71.7 170.6,72.3 171.8,72.8C172.9,73.4 174.2,73.9 175.4,74.5C176.6,75.0 177.9,75.5 179.1,76.0C180.3,76.5 181.6,77.1 182.8,77.6C184.0,78.2 185.2,78.8 186.4,79.3C187.6,79.9 188.8,80.6 190.0,81.2C191.2,81.8 192.4,82.5 193.5,83.2C194.7,83.8 195.8,84.5 196.9,85.3C198.0,86.0 199.1,86.7 200.2,87.5C201.3,88.3 202.3,89.1 203.3,89.9C204.4,90.7 205.4,91.6 206.4,92.4C207.4,93.3 208.3,94.2 209.2,95.1C210.2,96.1 211.1,97.0 212.0,98.0C212.8,99.0 213.7,100.0 214.5,101.1C215.3,102.1 216.1,103.1 216.9,104.2C217.7,105.3 218.4,106.4 219.2,107.5C219.9,108.6 220.6,109.8 221.3,110.9C222.0,112.1 222.7,113.2 223.3,114.4C224.0,115.6 224.6,116.8 225.2,118.0C225.8,119.2 226.4,120.4 227.0,121.7C227.6,122.9 228.2,124.1 228.7,125.4C229.3,126.6 229.8,127.9 230.3,129.1C230.8,130.4 231.4,131.7 231.9,132.9C232.3,134.2 232.8,135.4 233.3,136.7C233.8,138.0 234.2,139.2 234.7,140.5C235.1,141.8 235.6,143.1 236.0,144.3C236.4,145.6 236.8,146.9 237.3,148.1C237.7,149.4 238.1,150.7 238.5,152.0C238.9,153.3 239.3,154.5 239.6,155.8C240.0,157.1 240.4,158.4 240.8,159.6C241.1,160.9 241.5,162.2 241.8,163.5C242.2,164.8 242.5,166.1 242.9,167.3C243.2,168.6 243.6,169.9 243.9,171.2C244.3,172.5 244.6,173.8 244.9,175.1C245.3,176.3 245.6,177.6 245.9,178.9C246.2,180.2 246.6,181.5 246.9,182.8C247.2,184.1 247.5,185.4 247.9,186.7C248.2,187.9 248.5,189.2 248.8,190.5C249.2,191.8 249.5,193.1 249.8,194.4C250.1,195.7 250.5,197.0 250.8,198.3C251.1,199.6 251.4,200.9 251.7,202.2C252.1,203.5 252.4,204.8 252.7,206.1C253.0,207.4 253.3,208.7 253.6,210.0C254.0,211.2 254.3,212.5 254.6,213.8C254.9,215.1 255.2,216.4 255.5,217.7C255.8,219.0 256.1,220.3 256.4,221.7C256.7,223.0 257.0,224.3 257.3,225.6C257.6,226.9 257.9,228.2 258.2,229.5C258.5,230.8 258.8,232.1 259.1,233.4C259.4,234.7 259.7,236.0 260.0,237.3C260.3,238.6 260.5,239.9 260.8,241.2C261.1,242.6 261.4,243.9 261.7,245.2C261.9,246.5 262.2,247.8 262.5,249.1C262.7,250.4 263.0,251.7 263.3,253.1C263.5,254.4 263.8,255.7 264.1,257.0C264.3,258.3 264.6,259.6 264.8,260.9C265.1,262.3 265.3,263.6 265.6,264.9C265.8,266.2 266.1,267.5 266.3,268.9C266.6,270.2 266.8,271.5 267.1,272.8C267.3,274.1 267.5,275.4 267.8,276.8C268.0,278.1 268.3,279.4 268.5,280.7C268.7,282.1 269.0,283.4 269.2,284.7C269.4,286.0 269.6,287.3 269.9,288.7C270.1,290.0 270.3,291.3 270.5,292.6C270.8,293.9 271.0,295.3 271.2,296.6C271.4,297.9 271.6,299.2 271.9,300.6C272.1,301.9 272.3,303.2 272.5,304.5C272.7,305.9 272.9,307.2 273.1,308.5C273.4,309.8 273.6,311.1 273.8,312.5C274.0,313.8 274.2,315.1 274.4,316.4C274.6,317.8 274.8,319.1 275.0,320.4C275.2,321.7 275.4,323.0 275.6,324.4C275.8,325.7 276.0,327.0 276.2,328.3C276.4,329.7 276.6,331.0 276.8,332.3C277.0,333.6 277.2,334.9 277.4,336.3C277.6,337.6 277.8,338.9 278.0,340.2C278.1,341.5 278.3,342.9 278.5,344.2C278.7,345.5 278.9,346.8 279.1,348.1C279.3,349.4 279.5,350.8 279.7,352.1C279.8,353.4 280.0,354.7 280.2,356.0C280.4,357.3 280.6,358.7 280.8,360.0C281.0,361.3 281.1,362.6 281.3,363.9C281.5,365.2 281.7,366.6 281.9,367.9C282.1,369.2 282.3,370.5 282.5,371.8C282.7,373.1 282.9,374.4 283.1,375.8C283.2,377.1 283.4,378.4 283.6,379.7C283.8,381.0 284.0,382.3 284.2,383.6C284.5,385.0 284.7,386.3 284.9,387.6C285.1,388.9 285.3,390.2 285.5,391.5C285.7,392.9 286.0,394.2 286.2,395.5C286.4,396.8 286.6,398.1 286.9,399.4C287.1,400.8 287.3,402.1 287.6,403.4C287.8,404.7 288.1,406.0 288.3,407.4C288.6,408.7 288.9,410.0 289.1,411.3C289.4,412.7 289.7,414.0 289.9,415.3C290.2,416.6 290.5,418.0 290.8,419.3C291.1,420.6 291.4,421.9 291.7,423.3C292.0,424.6 292.3,425.9 292.6,427.3C292.9,428.6 293.3,429.9 293.6,431.3C293.9,432.6 294.3,433.9 294.6,435.3C295.0,436.6 295.3,438.0 295.7,439.3C296.1,440.6 296.5,442.0 296.9,443.3C297.3,444.6 297.7,445.9 298.3,447.1C298.8,448.3 299.3,449.4 299.9,450.5C300.6,451.5 301.3,452.5 302.1,453.3C302.9,454.1 303.8,454.8 304.8,455.3C305.8,455.9 307.0,456.3 308.2,456.5C309.5,456.6 311.0,456.6 312.4,456.5C313.8,456.4 315.3,456.0 316.7,455.6C318.0,455.2 319.3,454.6 320.6,454.0C321.9,453.5 323.0,452.7 324.2,452.0C325.4,451.4 326.5,450.6 327.7,449.9C328.9,449.2 330.0,448.5 331.2,447.9C332.4,447.3 333.6,446.7 334.8,446.1C336.0,445.6 337.3,445.2 338.5,444.8C339.8,444.4 341.0,444.1 342.3,443.8C343.6,443.5 344.9,443.3 346.2,443.2C347.5,443.0 348.8,443.0 350.2,442.9C351.5,442.9 352.8,442.9 354.1,443.0C355.5,443.1 356.8,443.2 358.1,443.4C359.5,443.6 360.8,443.9 362.1,444.1C363.4,444.4 364.7,444.8 366.0,445.1C367.3,445.5 368.6,445.9 369.9,446.4C371.2,446.8 372.5,447.3 373.7,447.8C375.0,448.4 376.2,448.9 377.5,449.5C378.7,450.0 379.9,450.6 381.1,451.2C382.3,451.8 383.5,452.4 384.6,453.0C385.8,453.7 386.9,454.3 388.1,454.9C389.2,455.6 390.3,456.2 391.4,456.8C392.5,457.5 393.7,458.1 394.8,458.8C395.9,459.4 397.1,460.0 398.3,460.7C399.5,461.3 400.7,462.0 401.9,462.6C403.2,463.3 404.5,463.9 405.8,464.5C407.1,465.1 408.5,465.7 409.8,466.2C411.1,466.6 412.5,467.0 413.8,467.2C415.0,467.4 416.3,467.5 417.5,467.3C418.7,467.1 419.8,466.7 420.8,466.2C421.9,465.7 422.9,464.9 423.8,464.1C424.7,463.3 425.6,462.3 426.4,461.2C427.2,460.2 428.0,459.0 428.7,457.8C429.4,456.6 430.0,455.3 430.7,454.0C431.3,452.7 431.8,451.4 432.3,450.1C432.8,448.8 433.3,447.5 433.7,446.2C434.2,444.9 434.6,443.6 434.9,442.3C435.3,441.0 435.6,439.7 435.9,438.4C436.3,437.1 436.5,435.8 436.8,434.5C437.1,433.2 437.3,431.9 437.6,430.6C437.8,429.3 438.1,428.0 438.3,426.7C438.5,425.4 438.8,424.1 439.0,422.8C439.2,421.6 439.4,420.3 439.7,419.0C439.9,417.7 440.2,416.4 440.4,415.0C440.7,413.7 441.0,412.4 441.2,411.1C441.5,409.8 441.8,408.5 442.1,407.2C442.4,405.9 442.7,404.6 443.0,403.3C443.3,402.0 443.6,400.7 443.9,399.4C444.2,398.1 444.5,396.8 444.8,395.4C445.1,394.1 445.4,392.8 445.7,391.5C446.0,390.2 446.3,388.9 446.5,387.6C446.8,386.3 447.1,384.9 447.4,383.6C447.7,382.3 447.9,381.0 448.2,379.7C448.5,378.4 448.7,377.1 449.0,375.7C449.2,374.4 449.5,373.1 449.7,371.8C450.0,370.5 450.2,369.2 450.4,367.8C450.7,366.5 450.9,365.2 451.1,363.9C451.4,362.6 451.6,361.3 451.8,360.0C452.1,358.6 452.3,357.3 452.5,356.0C452.8,354.7 453.0,353.4 453.3,352.1C453.5,350.8 453.7,349.4 454.0,348.1C454.2,346.8 454.4,345.5 454.7,344.2C454.9,342.9 455.2,341.6 455.4,340.3C455.7,339.0 455.9,337.6 456.2,336.3C456.5,335.0 456.7,333.7 457.0,332.4C457.3,331.1 457.6,329.8 457.8,328.5C458.1,327.2 458.4,325.9 458.7,324.6C459.0,323.3 459.3,322.0 459.6,320.7C459.9,319.4 460.2,318.1 460.5,316.8C460.8,315.5 461.1,314.2 461.4,312.9C461.7,311.6 462.0,310.3 462.3,309.0C462.6,307.7 463.0,306.4 463.3,305.1C463.6,303.8 463.9,302.5 464.2,301.2C464.5,299.9 464.8,298.6 465.1,297.3C465.4,296.0 465.7,294.7 466.0,293.4C466.4,292.0 466.7,290.7 467.0,289.4C467.3,288.1 467.6,286.8 467.9,285.5C468.1,284.2 468.4,282.9 468.7,281.6C469.0,280.3 469.3,279.0 469.6,277.7C469.9,276.3 470.2,275.0 470.4,273.7C470.7,272.4 471.0,271.1 471.3,269.8C471.6,268.5 471.9,267.2 472.1,265.8C472.4,264.5 472.7,263.2 473.0,261.9C473.3,260.6 473.6,259.3 473.9,258.0C474.2,256.7 474.5,255.4 474.8,254.1C475.1,252.8 475.4,251.5 475.7,250.2C476.0,248.9 476.4,247.6 476.7,246.3C477.0,245.0 477.3,243.7 477.7,242.4C478.0,241.1 478.4,239.8 478.7,238.5C479.1,237.3 479.5,236.0 479.8,234.7C480.2,233.4 480.6,232.2 481.0,230.9C481.4,229.6 481.8,228.3 482.2,227.1C482.6,225.8 483.0,224.6 483.5,223.3C483.9,222.0 484.3,220.8 484.8,219.5C485.2,218.3 485.6,217.0 486.1,215.8C486.5,214.5 487.0,213.3 487.5,212.0C487.9,210.8 488.4,209.5 488.9,208.3C489.3,207.0 489.8,205.8 490.3,204.5C490.8,203.3 491.3,202.1 491.8,200.8C492.2,199.6 492.7,198.3 493.2,197.1C493.7,195.8 494.2,194.6 494.7,193.3C495.2,192.1 495.7,190.9 496.2,189.6C496.7,188.4 497.2,187.1 497.7,185.9C498.1,184.6 498.6,183.4 499.1,182.1C499.6,180.9 500.1,179.6 500.6,178.4C501.1,177.1 501.6,175.9 502.1,174.6C502.6,173.4 503.1,172.1 503.6,170.9C504.1,169.6 504.6,168.4 505.1,167.1C505.6,165.9 506.1,164.6 506.6,163.4C507.1,162.1 507.6,160.9 508.1,159.6C508.7,158.4 509.2,157.1 509.7,155.9C510.2,154.7 510.7,153.4 511.3,152.2C511.8,151.0 512.3,149.7 512.9,148.5C513.4,147.3 514.0,146.0 514.5,144.8C515.1,143.6 515.6,142.4 516.2,141.2C516.8,139.9 517.3,138.7 517.9,137.5C518.5,136.3 519.1,135.1 519.7,133.9C520.2,132.7 520.8,131.5 521.4,130.3C522.1,129.2 522.7,128.0 523.3,126.8C523.9,125.6 524.5,124.4 525.2,123.3C525.8,122.1 526.5,121.0 527.1,119.8C527.8,118.7 528.5,117.5 529.1,116.4C529.8,115.2 530.5,114.1 531.2,113.0C531.9,111.8 532.6,110.7 533.3,109.6C534.1,108.5 534.8,107.4 535.6,106.3C536.3,105.2 537.1,104.1 537.8,103.1C538.6,102.0 539.4,100.9 540.2,99.9C541.0,98.8 541.8,97.7 542.6,96.7C543.4,95.7 544.3,94.6 545.1,93.6C546.0,92.6 546.8,91.6 547.7,90.6C548.6,89.6 549.5,88.6 550.4,87.6C551.3,86.6 552.2,85.7 553.2,84.7C554.1,83.8 555.0,82.8 556.0,81.9C557.0,80.9 557.9,80.0 558.9,79.1C559.9,78.2 560.9,77.3 561.9,76.4C563.0,75.5 564.0,74.7 565.0,73.8C566.1,72.9 567.1,72.1 568.2,71.3C569.2,70.4 570.3,69.6 571.4,68.8C572.5,68.0 573.6,67.2 574.7,66.4C575.8,65.6 576.9,64.9 578.0,64.1C579.1,63.4 580.3,62.6 581.4,61.9C582.5,61.2 583.7,60.5 584.9,59.8C586.0,59.1 587.2,58.4 588.4,57.8C589.5,57.1 590.7,56.5 591.9,55.9C593.1,55.2 594.3,54.6 595.5,54.0C596.7,53.4 597.9,52.9 599.2,52.3C600.4,51.8 601.6,51.2 602.8,50.7C604.1,50.2 605.3,49.7 606.6,49.2C607.8,48.7 609.1,48.2 610.3,47.8C611.6,47.3 612.8,46.9 614.1,46.5C615.4,46.0 616.6,45.7 617.9,45.3C619.2,44.9 620.5,44.5 621.7,44.2C623.0,43.9 624.3,43.5 625.6,43.2C626.9,42.9 628.2,42.7 629.5,42.4C630.8,42.1 632.1,41.9 633.4,41.6C634.7,41.4 636.0,41.2 637.3,40.9C638.6,40.7 639.9,40.5 641.3,40.3C642.6,40.1 643.9,40.0 645.2,39.8C646.5,39.6 647.8,39.4 649.2,39.3C650.5,39.1 651.8,39.0 653.2,38.8C654.5,38.7 655.8,38.6 657.1,38.4C658.5,38.3 659.8,38.2 661.1,38.1C662.5,38.0 663.8,37.8 665.1,37.7C666.5,37.6 667.8,37.5 669.2,37.4C670.5,37.3 671.8,37.3 673.2,37.2C674.5,37.1 675.9,37.0 677.2,36.9C678.5,36.9 679.9,36.8 681.2,36.8C682.6,36.7 683.9,36.7 685.2,36.6C686.6,36.6 687.9,36.5 689.3,36.5C690.6,36.5 692.0,36.4 693.3,36.4C694.6,36.4 696.0,36.4 697.3,36.4C698.7,36.4 700.0,36.4 701.3,36.4C702.7,36.4 704.0,36.4 705.4,36.5C706.7,36.5 708.0,36.5 709.4,36.6C710.7,36.6 712.0,36.6 713.4,36.7C714.7,36.7 716.0,36.8 717.4,36.8C718.7,36.9 720.0,37.0 721.4,37.0C722.7,37.1 724.0,37.2 725.4,37.3C726.7,37.4 728.0,37.5 729.4,37.5C730.7,37.6 732.0,37.7 733.4,37.8C734.7,37.9 736.0,38.0 737.3,38.1C738.7,38.2 740.0,38.4 741.3,38.5C742.7,38.6 744.0,38.7 745.3,38.8C746.7,38.9 748.0,39.1 749.3,39.2C750.7,39.3 752.0,39.4 753.3,39.6C754.7,39.7 756.0,39.8 757.3,39.9C758.7,40.1 760.0,40.2 761.3,40.3C762.7,40.5 764.0,40.6 765.4,40.7C766.7,40.8 768.0,41.0 769.4,41.1C770.7,41.2 772.0,41.3 773.4,41.4C774.7,41.5 776.0,41.6 777.4,41.6C778.7,41.7 780.1,41.8 781.4,41.8C782.7,41.8 784.1,41.9 785.4,41.9C786.7,41.9 788.1,41.9 789.4,41.8C790.7,41.8 792.1,41.7 793.4,41.6C794.7,41.6 796.0,41.4 797.4,41.3C798.7,41.2 800.0,41.0 801.3,40.8C802.7,40.6 804.6,40.2 805.3,40.1" stroke="#bc8f8f" stroke-dasharray="10.9 6.57"/>
</g>
<path d="M134.08,511.00v-14.20M134.08,3.10v14.20M179.36,511.00v-7.30M179.36,3.10v7.30M224.64,511.00v-7.30M224.64,3.10v7.30M269.93,511.00v-7.30M269.93,3.10v7.30M315.21,511.00v-7.30M315.21,3.10v7.30M360.49,511.00v-14.20M360.49,3.10v14.20M405.77,511.00v-7.30M405.77,3.10v7.30M451.05,511.00v-7.30M451.05,3.10v7.30M496.33,511.00v-7.30M496.33,3.10v7.30M541.61,511.00v-7.30M541.61,3.10v7.30M586.89,511.00v-14.20M586.89,3.10v14.20M632.18,511.00v-7.30M632.18,3.10v7.30M677.46,511.00v-7.30M677.46,3.10v7.30M722.74,511.00v-7.30M722.74,3.10v7.30M768.02,511.00v-7.30M768.02,3.10v7.30M88.80,22.90h14.20M813.30,22.90h-14.20M88.80,120.52h14.20M813.30,120.52h-14.20M88.80,91.13h7.30M813.30,91.13h-7.30M88.80,73.94h7.30M813.30,73.94h-7.30M88.80,61.75h7.30M813.30,61.75h-7.30M88.80,52.29h7.30M813.30,52.29h-7.30M88.80,44.56h7.30M813.30,44.56h-7.30M88.80,38.02h7.30M813.30,38.02h-7.30M88.80,32.36h7.30M813.30,32.36h-7.30M88.80,27.37h7.30M813.30,27.37h-7.30M88.80,218.14h14.20M813.30,218.14h-14.20M88.80,188.75h7.30M813.30,188.75h-7.30M88.80,171.56h7.30M813.30,171.56h-7.30M88.80,159.37h7.30M813.30,159.37h-7.30M88.80,149.91h7.30M813.30,149.91h-7.30M88.80,142.18h7.30M813.30,142.18h-7.30M88.80,135.64h7.30M813.30,135.64h-7.30M88.80,129.98h7.30M813.30,129.98h-7.30M88.80,124.99h7.30M813.30,124.99h-7.30M88.80,315.76h14.20M813.30,315.76h-14.20M88.80,286.37h7.30M813.30,286.37h-7.30M88.80,269.18h7.30M813.30,269.18h-7.30M88.80,256.99h7.30M813.30,256.99h-7.30M88.80,247.53h7.30M813.30,247.53h-7.30M88.80,239.80h7.30M813.30,239.80h-7.30M88.80,233.26h7.30M813.30,233.26h-7.30M88.80,227.60h7.30M813.30,227.60h-7.30M88.80,222.61h7.30M813.30,222.61h-7.30M88.80,413.38h14.20M813.30,413.38h-14.20M88.80,383.99h7.30M813.30,383.99h-7.30M88.80,366.80h7.30M813.30,366.80h-7.30M88.80,354.61h7.30M813.30,354.61h-7.30M88.80,345.15h7.30M813.30,345.15h-7.30M88.80,337.42h7.30M813.30,337.42h-7.30M88.80,330.88h7.30M813.30,330.88h-7.30M88.80,325.22h7.30M813.30,325.22h-7.30M88.80,320.23h7.30M813.30,320.23h-7.30M88.80,481.61h7.30M813.30,481.61h-7.30M88.80,464.42h7.30M813.30,464.42h-7.30M88.80,452.23h7.30M813.30,452.23h-7.30M88.80,442.77h7.30M813.30,442.77h-7.30M88.80,435.04h7.30M813.30,435.04h-7.30M88.80,428.50h7.30M813.30,428.50h-7.30M88.80,422.84h7.30M813.30,422.84h-7.30M88.80,417.85h7.30M813.30,417.85h-7.30" stroke="#000" stroke-width="2.4" fill="none"/>
<rect x="88.80" y="3.10" width="724.50" height="507.90" fill="none" stroke="#000" stroke-width="2.4"/>
<path d="M604.2,130.6H640.8" stroke="#ff00ff" stroke-width="2.4" fill="none"/>
<path d="M604.2,160.1H640.8" stroke="#0000ff" stroke-width="2.4" fill="none"/>
<path d="M604.2,189.5H640.8" stroke="#ff0000" stroke-width="2.4" fill="none"/>
<path d="M604.2,218.8H640.8" stroke="#000000" stroke-width="2.4" fill="none"/>
<path d="M604.2,248.3H640.8" stroke="#00ffff" stroke-width="2.4" fill="none" stroke-dasharray="11.2 6.4"/>
<path d="M604.2,277.6H640.8" stroke="#00ff00" stroke-width="2.4" fill="none" stroke-dasharray="11.2 6.4"/>
<path d="M604.2,307.0H640.8" stroke="#ffa500" stroke-width="2.4" fill="none" stroke-dasharray="11.2 6.4"/>
<path d="M604.2,336.4H640.8" stroke="#bc8f8f" stroke-width="2.4" fill="none" stroke-dasharray="11.2 6.4"/>
</svg>
<div class="t xl" style="left:134.1px;top:514.6px">0.5</div>
<div class="t xl" style="left:361.4px;top:514.6px">1</div>
<div class="t xl" style="left:586.9px;top:514.6px">1.5</div>
<div class="t xl" style="left:814.2px;top:514.6px">2</div>
<div class="t yl" style="right:740.0px;top:15.0px">10<sup>0</sup></div>
<div class="t yl" style="right:740.0px;top:112.6px">10<sup>-1</sup></div>
<div class="t yl" style="right:740.0px;top:210.2px">10<sup>-2</sup></div>
<div class="t yl" style="right:740.0px;top:307.9px">10<sup>-3</sup></div>
<div class="t yl" style="right:740.0px;top:405.5px">10<sup>-4</sup></div>
<div class="t yl" style="right:740.0px;top:503.1px">10<sup>-5</sup></div>
<div class="t" style="font-size:29.2px;word-spacing:-1.4px;left:416.3px;top:539.1px">R / R<sub style="font-size:21px;position:relative;top:10.7px;vertical-align:baseline;line-height:0;margin-left:0.6px">p</sub></div>
<div class="t" style="font-size:29.5px;left:22.3px;top:289.5px;transform-origin:0 0;transform:rotate(-90deg);word-spacing:-1.6px;-webkit-text-stroke:0.3px #000;"><span style="position:relative;top:-24.7px;display:inline-block"><span style="display:inline-block;transform:scaleX(1.07);transform-origin:0 50%;margin-right:1.1px">&Sigma;</span> / <span style="display:inline-block;transform:scaleX(1.07);transform-origin:0 50%;margin-right:0.6px">&Sigma;</span><sub style="font-size:21.5px;position:relative;top:11.2px;vertical-align:baseline;line-height:0;-webkit-text-stroke:0;">0</sub></span></div>
<div class="t lg" style="left:655.3px;top:116.9px">3D; 0.5 M<sub>J</sub></div>
<div class="t lg" style="left:655.3px;top:146.4px">3D; 1 M<sub>J</sub></div>
<div class="t lg" style="left:655.3px;top:175.8px">3D; 2 M<sub>J</sub></div>
<div class="t lg" style="left:655.3px;top:205.1px">3D; 4 M<sub>J</sub></div>
<div class="t lg" style="left:655.3px;top:234.6px">2D; 0.5 M<sub>J</sub></div>
<div class="t lg" style="left:655.3px;top:263.9px">2D; 1 M<sub>J</sub></div>
<div class="t lg" style="left:655.3px;top:293.3px">2D; 2 M<sub>J</sub></div>
<div class="t lg" style="left:655.3px;top:322.7px">2D; 4 M<sub>J</sub></div>
</body></html>
